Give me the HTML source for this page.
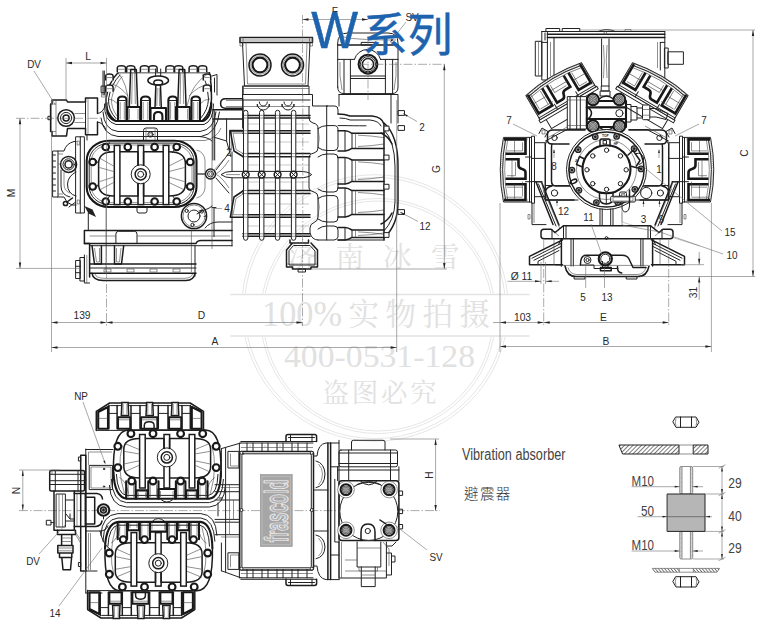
<!DOCTYPE html><html><head><meta charset="utf-8"><title>W</title><style>html,body{margin:0;padding:0;background:#fff}svg{display:block}.k{fill:none;stroke:#222;stroke-width:1;stroke-linejoin:round;stroke-linecap:round}.kf{fill:#fff;stroke:#222;stroke-width:1;stroke-linejoin:round}.t{fill:none;stroke:#444;stroke-width:.6;stroke-linejoin:round}.tf{fill:#fff;stroke:#444;stroke-width:.6}.th{fill:none;stroke:#666;stroke-width:.35}.b{fill:none;stroke:#181818;stroke-width:2.1;stroke-linejoin:round;stroke-linecap:round}.bf{fill:#fff;stroke:#181818;stroke-width:2.1;stroke-linejoin:round}.u{fill:none;stroke:#181818;stroke-width:2.6;stroke-linejoin:miter}.m{fill:none;stroke:#1c1c1c;stroke-width:1.5;stroke-linejoin:round;stroke-linecap:round}.d{fill:none;stroke:#6e6e6e;stroke-width:.6}.cl{fill:none;stroke:#666;stroke-width:.55;stroke-dasharray:9 2 1.5 2}.ar{fill:#222;stroke:none}.lg{fill:#a6a6a6;stroke:#8c8c8c;stroke-width:.6}.lgi{fill:none;stroke:#c9c9c9;stroke-width:.5}.mf{fill:#fff;stroke:#1c1c1c;stroke-width:1.5}.lgt{fill:#b4b4b4;stroke:#f6f6f6;stroke-width:.9;font-family:"Liberation Sans",sans-serif;font-weight:bold}.dk{fill:#222;stroke:none}.dk2{fill:#4a4a4a;stroke:none}.wl{fill:none;stroke:#ddd;stroke-width:.6}.tb{fill:#111;font-family:"Liberation Sans",sans-serif;font-weight:bold}.tx{fill:#2a2a2a;font-family:"Liberation Sans",sans-serif}.tv{fill:#444;font-family:"Liberation Sans",sans-serif}.wmc{fill:none;stroke:#e6e6e6;stroke-width:1}.wml{fill:none;stroke:#e2e2e2;stroke-width:1.6}.wmt{fill:#e1e1e1;stroke:none;font-family:"Liberation Serif","Noto Serif CJK SC",serif}</style></head><body>
<svg width="760" height="629" viewBox="0 0 760 629">
<rect width="760" height="629" fill="#fff"/>
<g class="wm">
<defs><clipPath id="wc"><rect x="0" y="0" width="760" height="293.5"/><rect x="0" y="337" width="760" height="300"/></clipPath></defs>
<g clip-path="url(#wc)">
<circle class="wmc" cx="375" cy="308" r="133.3"/>
<circle class="wmc" cx="375" cy="308" r="130.6"/>
<circle class="wmc" cx="378" cy="316" r="117.5"/>
<circle class="wmc" cx="378" cy="316" r="115"/>
</g>
<path class="wml" d="M230.3 294.5L529.5 294.5"/>
<path class="wml" d="M230.3 336L529.5 336"/>
<text class="wmt" x="288 335.5 383 431" y="266.5" font-size="28.5">济南冰雪</text>
<text class="wmt" x="262" y="325.5" font-size="36" textLength="80" lengthAdjust="spacingAndGlyphs">100%</text>
<text class="wmt" x="348.5 385.5 422.5 459.5" y="325" font-size="30.5">实物拍摄</text>
<text class="wmt" x="284" y="366.5" font-size="31" textLength="191" lengthAdjust="spacingAndGlyphs">400-0531-128</text>
<text class="wmt" x="322.5 351.7 380.9 410.1" y="402" font-size="26.5">盗图必究</text>
</g>
<path class="m" d="M52 100H66.5L67.5 102H85.5V98H97.5V113.5 M52 100V104H50.6V131.5H52V136H66.5L67.5 128.5H85.5V134.7H97.5V122"/>
<path class="t" d="M52 104L56 104"/>
<path class="t" d="M52 131.5L56 131.5"/>
<path class="t" d="M56 100L56 136"/>
<rect class="k" x="48.3" y="116.3" width="2.7" height="3.4"/>
<circle class="m" cx="66.1" cy="118" r="8.3"/>
<circle class="k" cx="66.1" cy="118" r="5.6"/>
<circle class="m" cx="66.1" cy="118" r="3"/>
<path class="t" d="M74.5 113.5L85.5 113.5"/>
<path class="t" d="M74.5 122.5L85.5 122.5"/>
<path class="k" d="M85.5 102L85.5 128.5"/>
<path class="k" d="M97.5 113.5Q103 113 105 106"/>
<path class="k" d="M97.5 122Q104 123 106 130"/>
<path class="t" d="M88 98L88 134.7"/>
<path class="k" d="M103 71L103 95"/>
<path class="k" d="M104.3 71L104.3 95"/>
<rect class="k" x="101.5" y="86" width="4" height="6.5"/>
<rect class="t" x="101.5" y="92.5" width="4" height="4.5"/>
<path class="m" d="M118 72.8Q108.5 82 106 99Q105 112 115.5 121"/>
<path class="k" d="M120 75Q111 84 108.5 99Q108 110 116 118.5"/>
<path class="t" d="M122.5 76Q114 86 111.5 99Q111 108 117 116"/>
<path class="m" d="M209.5 72.8Q212 86 211.5 99Q211 113 202 121"/>
<path class="k" d="M203 75Q208.5 86 208.5 99Q208 110 200.5 118.5"/>
<path class="k" d="M118 72.8L209.5 72.8"/>
<path class="mf" d="M117.3 72.3V67.9Q117.3 65.7 121.4 65.7Q125.5 65.7 125.5 67.9V72.3"/>
<path class="t" d="M118.3 69.3L124.5 69.3"/>
<path class="mf" d="M126.7 72.3V67.9Q126.7 65.7 130.8 65.7Q134.9 65.7 134.9 67.9V72.3"/>
<path class="t" d="M127.7 69.3L133.9 69.3"/>
<path class="mf" d="M140.4 72.3V67.9Q140.4 65.7 144.5 65.7Q148.6 65.7 148.6 67.9V72.3"/>
<path class="t" d="M141.4 69.3L147.6 69.3"/>
<path class="mf" d="M148.9 72.3V67.9Q148.9 65.7 153 65.7Q157.1 65.7 157.1 67.9V72.3"/>
<path class="t" d="M149.9 69.3L156.1 69.3"/>
<path class="mf" d="M165.9 72.3V67.9Q165.9 65.7 170 65.7Q174.1 65.7 174.1 67.9V72.3"/>
<path class="t" d="M166.9 69.3L173.1 69.3"/>
<path class="mf" d="M174.6 72.3V67.9Q174.6 65.7 178.7 65.7Q182.8 65.7 182.8 67.9V72.3"/>
<path class="t" d="M175.6 69.3L181.8 69.3"/>
<path class="mf" d="M189.1 72.3V67.9Q189.1 65.7 193.2 65.7Q197.3 65.7 197.3 67.9V72.3"/>
<path class="t" d="M190.1 69.3L196.3 69.3"/>
<path class="mf" d="M198.5 72.3V67.9Q198.5 65.7 202.6 65.7Q206.7 65.7 206.7 67.9V72.3"/>
<path class="t" d="M199.5 69.3L205.7 69.3"/>
<path class="mf" d="M105.7 80.5V76.1Q105.7 73.9 109.4 73.9Q113.1 73.9 113.1 76.1V80.5"/>
<path class="t" d="M106.7 77.5L112.1 77.5"/>
<path class="mf" d="M203.3 80.5V76.1Q203.3 73.9 207 73.9Q210.7 73.9 210.7 76.1V80.5"/>
<path class="t" d="M204.3 77.5L209.7 77.5"/>
<path class="mf" d="M105.7 91.7V87.3Q105.7 85.1 109.4 85.1Q113.1 85.1 113.1 87.3V91.7"/>
<path class="t" d="M106.7 88.7L112.1 88.7"/>
<path class="mf" d="M203.3 91.7V87.3Q203.3 85.1 207 85.1Q210.7 85.1 210.7 87.3V91.7"/>
<path class="t" d="M204.3 88.7L209.7 88.7"/>
<path class="k" d="M212 76L217 74.5V95 M214.5 78V92"/>
<path class="m" d="M129.3 107L130.7 69.4H136.3L137.7 107"/>
<path class="t" d="M132.3 73L131.7 104"/>
<path class="t" d="M134.7 73L135.3 104"/>
<path class="m" d="M177.7 107L179.1 69.4H184.7L186.1 107"/>
<path class="t" d="M180.7 73L180.1 104"/>
<path class="t" d="M183.1 73L183.7 104"/>
<path class="m" d="M155 108L155.8 86 M161.3 108L160.5 86"/>
<ellipse class="m" cx="158.2" cy="80.5" rx="10.3" ry="4.6"/>
<ellipse class="m" cx="158.2" cy="82.5" rx="4.4" ry="2.6"/>
<path class="k" d="M155.6 69V76 M160.7 69V76"/>
<path class="t" d="M157.2 88L156.8 106"/>
<path class="t" d="M159.2 88L159.6 106"/>
<path class="t" d="M118 73Q127 82 129 106 M209 73Q191 84 187 106"/>
<path class="t" d="M112 84Q120 86 128 96 M209 84Q198 86 189 96 M108 99Q113 99 118 104 M210 99Q204 99 200 104"/>
<path class="b" d="M118 120.7V100Q118 96.5 122.25 96.5Q126.5 96.5 126.5 100V120.7"/>
<path class="k" d="M119 100.5H125.5"/>
<path class="t" d="M120.2 102L120.2 119.5"/>
<path class="t" d="M124.3 102L124.3 119.5"/>
<path class="b" d="M141 120.7V100Q141 96.5 145.5 96.5Q150 96.5 150 100V120.7"/>
<path class="k" d="M142 100.5H149"/>
<path class="t" d="M143.2 102L143.2 119.5"/>
<path class="t" d="M147.8 102L147.8 119.5"/>
<path class="b" d="M168.4 120.7V100Q168.4 96.5 172.7 96.5Q177 96.5 177 100V120.7"/>
<path class="k" d="M169.4 100.5H176"/>
<path class="t" d="M170.6 102L170.6 119.5"/>
<path class="t" d="M174.8 102L174.8 119.5"/>
<path class="b" d="M191.5 120.7V100Q191.5 96.5 195.75 96.5Q200 96.5 200 100V120.7"/>
<path class="k" d="M192.5 100.5H199"/>
<path class="t" d="M193.7 102L193.7 119.5"/>
<path class="t" d="M197.8 102L197.8 119.5"/>
<path class="b" d="M127.4 120.7V107H140.2V120.7"/>
<path class="b" d="M176 120.7V107H189.8V120.7"/>
<path class="b" d="M150.5 120.7V108H166V120.7"/>
<path class="b" d="M154 120.7V116Q154 112 158.2 112Q162.4 112 162.4 116V120.7"/>
<path class="t" d="M129.5 109V119.5 M138 109V119.5 M178 109V119.5 M187.6 109V119.5"/>
<path class="b" d="M106.5 103Q106 118 116 121H203Q211 118 211.3 103"/>
<path class="k" d="M104.5 104Q104 121.5 116 124.5H204Q213.5 121 213.5 104"/>
<path class="k" d="M103 112Q104 130 118 131.5H200Q214 130 216 112"/>
<path class="k" d="M101 118Q103 135 118 136.5H201Q217 134 219.5 112"/>
<path class="t" d="M110 140.5H205Q217 138 221 128"/>
<path class="m" d="M225.3 98.7H242.7 M225.3 108.2H242.7 M225.3 98.7Q220.6 98.7 220.6 103.5Q220.6 108.2 225.3 108.2"/>
<path class="t" d="M226 100.5H242.7 M226 106.5H242.7"/>
<path class="m" d="M212.9 109.8H242.7 M212.9 119H243"/>
<path class="k" d="M212.9 109.8V160 M214.7 111V160"/>
<path class="k" d="M226.6 119L226.6 141"/>
<path class="k" d="M229.6 150V130.3H242.7"/>
<path class="t" d="M231.4 150V132H242.7"/>
<path class="k" d="M214.7 137.4L226.6 141L230.8 156.5"/>
<path class="k" d="M242.7 86V128"/>
<path class="k" d="M143.5 140V130.5Q143.5 128 146 128H155Q157.5 128 157.5 130.5V140"/>
<circle class="k" cx="150.5" cy="134.5" r="2.6"/>
<circle class="t" cx="150.5" cy="134.5" r="1.3"/>
<path class="t" d="M146 129L146 140"/>
<path class="t" d="M155 129L155 140"/>
<rect class="b" x="86.7" y="140.7" width="109.8" height="66.3" rx="22" ry="20"/>
<rect class="k" x="89.2" y="143.1" width="104.8" height="61.5" rx="20" ry="18"/>
<rect class="t" x="91.2" y="145" width="100.8" height="57.7" rx="18.5" ry="16.5"/>
<path class="m" d="M113.6 151.7H168.8Q185.4 151.7 185.4 163.6V184Q185.4 196 168.8 196H113.6Q98.6 196 98.6 184V163.6Q98.6 151.7 113.6 151.7Z"/>
<rect class="mf" x="114.3" y="145.4" width="5.6" height="59.2"/>
<rect class="mf" x="138" y="145.4" width="5.6" height="59.2"/>
<rect class="mf" x="163.2" y="145.4" width="5.6" height="59.2"/>
<circle class="kf" cx="140.7" cy="174.3" r="9.5"/>
<circle class="m" cx="140.7" cy="174.3" r="5.6"/>
<circle class="k" cx="140.7" cy="174.3" r="3"/>
<path class="m" d="M138 151.7V165.2 M143.6 151.7V165.2 M138 183.4V196 M143.6 183.4V196"/>
<path class="t" d="M113.6 171.5L99.4 167.5"/>
<path class="t" d="M113.6 177L99.4 181.7"/>
<path class="t" d="M113.6 166L99.4 158"/>
<path class="t" d="M113.6 182.5L99.4 190"/>
<path class="t" d="M169 171.5L184.6 167.5"/>
<path class="t" d="M169 177L184.6 181.7"/>
<path class="t" d="M169 166L184.6 158"/>
<path class="t" d="M169 182.5L184.6 190"/>
<path class="k" d="M98.6 163.6L95 159 M98.6 184L95 189.5 M185.4 163.6L188.5 159 M185.4 184L188.5 189.5"/>
<path class="k" d="M110 152.5L108 149.5 M110 195.5L108 198.5 M172.5 152.5L174.5 149.5 M172.5 195.5L174.5 198.5"/>
<circle class="bf" cx="105.7" cy="147" r="3.3"/>
<circle class="bf" cx="105.7" cy="201.5" r="3.3"/>
<circle class="bf" cx="127.8" cy="147" r="3.3"/>
<circle class="bf" cx="127.8" cy="201.5" r="3.3"/>
<circle class="bf" cx="154.6" cy="147" r="3.3"/>
<circle class="bf" cx="154.6" cy="201.5" r="3.3"/>
<circle class="bf" cx="176.7" cy="147" r="3.3"/>
<circle class="bf" cx="176.7" cy="201.5" r="3.3"/>
<circle class="bf" cx="92.7" cy="162" r="3.3"/>
<circle class="bf" cx="92.7" cy="186.5" r="3.3"/>
<circle class="bf" cx="190.2" cy="162" r="3.3"/>
<circle class="bf" cx="190.2" cy="186.5" r="3.3"/>
<path class="k" d="M137 207V211Q137 213 139 213H145Q147 213 147 211V207"/>
<path class="d" d="M106.5 100L106.5 255"/>
<circle class="m" cx="210.5" cy="174" r="5"/>
<circle class="k" cx="210.5" cy="174" r="3"/>
<circle class="t" cx="210.5" cy="174" r="1.4"/>
<path class="k" d="M196.5 174L205.5 174"/>
<circle class="m" cx="194" cy="216" r="12.6"/>
<circle class="t" cx="194" cy="216" r="11"/>
<circle class="k" cx="194" cy="216" r="6"/>
<circle class="k" cx="192.44" cy="224.86" r="1.6"/>
<circle class="k" cx="186.63" cy="210.84" r="1.6"/>
<circle class="k" cx="201.79" cy="211.5" r="1.6"/>
<path class="k" d="M197 214L202 211"/>
<path class="k" d="M76 136.8H84.4V213H76Z"/>
<path class="k" d="M80.3 136.8L80.3 213"/>
<rect class="t" x="77.2" y="141" width="2.2" height="4"/>
<rect class="t" x="77.2" y="200" width="2.2" height="4"/>
<path class="k" d="M53 151H58V197H53Z"/>
<path class="k" d="M53 155L55.5 155"/>
<path class="k" d="M53 161L55.5 161"/>
<path class="k" d="M53 167L55.5 167"/>
<path class="k" d="M53 173L55.5 173"/>
<path class="k" d="M53 179L55.5 179"/>
<path class="k" d="M53 185L55.5 185"/>
<path class="k" d="M53 191L55.5 191"/>
<path class="k" d="M58 151H64Q66 143.5 74 141.5H76 M58 197H64Q66 203 72 205H76"/>
<path class="t" d="M58 154H63 M58 194H63"/>
<circle class="m" cx="68.6" cy="164.4" r="8"/>
<circle class="k" cx="68.6" cy="164.4" r="5.6"/>
<circle class="m" cx="68.6" cy="164.4" r="3.6"/>
<path class="k" d="M61 170V186Q61 195 70 197 M76 172Q68 176 67.5 184Q67.5 194 76 196"/>
<path class="t" d="M64 172V184Q64 191 70 193"/>
<path class="t" d="M60.6 164H58 M76 158H72 M76 171H74"/>
<circle class="m" cx="65.5" cy="203.5" r="2.1"/>
<path class="m" d="M67 202L72.5 198"/>
<path class="k" d="M69 207L75 202.5"/>
<path class="dk" d="M84.4 206L92.5 209.5L96 217L88.5 213.5Z"/>
<path class="k" d="M88.3 213V230.5"/>
<path class="k" d="M87 135V140"/>
<path class="m" d="M84.4 230.5H232 M84.4 230.5V243.5H89.6V277"/>
<path class="t" d="M106 208V272"/>
<path class="t" d="M191.4 231L191.4 272"/>
<path class="k" d="M115.9 243.5V234Q115.9 231.3 118.5 231.3H134.5Q137 231.3 137 234V243.5"/>
<path class="t" d="M89.6 236H115.9 M137 236H230"/>
<path class="m" d="M84.4 243.5H196Q197 240.5 201 240.5H232"/>
<path class="k" d="M89.6 245.7L232 245.7"/>
<path class="m" d="M92 245.7L94.5 264H101.4V245.7 M123.7 245.7L121.5 264H114.5V245.7"/>
<path class="t" d="M94.5 248L96.5 262H99.5V248 M121 248L119.5 262H116.5V248"/>
<path class="m" d="M89.6 264H196 M89.6 273.3H196"/>
<path class="k" d="M89.6 268H196"/>
<path class="k" d="M195 245.7V276"/>
<path class="m" d="M92 273.3Q93 280 103 280.5H186Q194 280 195 273.3"/>
<path class="t" d="M95 274Q96 278 104 278.3H185Q191.5 278 192.5 274"/>
<rect class="t" x="104" y="269" width="7" height="3"/>
<rect class="t" x="127" y="269" width="7" height="3"/>
<rect class="t" x="150" y="269" width="7" height="3"/>
<rect class="t" x="173" y="269" width="7" height="3"/>
<rect class="k" x="76" y="260.5" width="4.3" height="18"/>
<rect class="k" x="80.3" y="257.5" width="4.1" height="23.5"/>
<path class="k" d="M76 266.3L80.3 266.3"/>
<path class="k" d="M76 272.7L80.3 272.7"/>
<path class="k" d="M84.4 255V283H89.6"/>
<path class="t" d="M86.8 255L86.8 283"/>
<path class="k" d="M232 152V246"/>
<path class="t" d="M229 131.5H246V239.5"/>
<path class="t" d="M196.5 174H205 M215.5 174Q222 171 229 160 M215.5 174Q222 177 229 188"/>
<path class="k" d="M216 170L229 153 M216 178L229 193"/>
<path class="k" d="M205 228Q210 222 218 222H232"/>
<path class="t" d="M212 125V249"/>
<path class="k" d="M199 136.5Q208 137 212 141 M199 211Q208 210 212 206"/>
<path class="k" d="M214 207.6V236.6 M212 207.6H216 "/>
<path class="t" d="M196.5 150Q204 152 205 160V188Q204 196 196.5 198"/>
<path class="m" d="M240 37.5H312.5V42.5H240Z"/>
<path class="t" d="M240 40L312.5 40"/>
<path class="k" d="M242.5 42.5L244.5 86H308L310 42.5"/>
<path class="t" d="M246 42.5L247.5 84H305.5L307 42.5"/>
<rect class="k" x="243.5" y="86" width="65.5" height="8.5"/>
<path class="t" d="M243.5 88.5L309 88.5"/>
<rect class="t" x="240" y="37.5" width="3" height="8.5"/>
<rect class="t" x="309.5" y="37.5" width="3" height="8.5"/>
<circle class="m" cx="260" cy="65" r="11"/>
<circle class="t" cx="260" cy="65" r="9.3"/>
<circle class="b" cx="260" cy="65" r="7.4"/>
<circle class="m" cx="292.5" cy="65" r="11"/>
<circle class="t" cx="292.5" cy="65" r="9.3"/>
<circle class="b" cx="292.5" cy="65" r="7.4"/>
<path class="k" d="M242.5 94.5V100 M309 94.5H312.5V106H327.5 M243 100H310 M243 100V128"/>
<path class="t" d="M243 106.5L310 106.5"/>
<path class="k" d="M257.3 106.5V104A6 6 0 0 0 269.3 104V106.5"/>
<path class="k" d="M259.3 102A4 4 0 0 0 267.3 102"/>
<path class="k" d="M282 106.5V104A6 6 0 0 0 294 104V106.5"/>
<path class="k" d="M284 102A4 4 0 0 0 292 102"/>
<path class="m" d="M243 115.4H310 M243 118H310"/>
<path class="m" d="M243 130.7H310 M243 133.3H310"/>
<path class="m" d="M243 153.6H310 M243 156.7H310"/>
<path class="m" d="M243 190.5H310 M243 193.6H310"/>
<path class="m" d="M243 214.7H310 M243 217.2H310"/>
<path class="m" d="M243 233.8H310 M243 236.3H310"/>
<path class="th" d="M248 124L309 124"/>
<path class="th" d="M248 142L309 142"/>
<path class="th" d="M248 165L309 165"/>
<path class="th" d="M248 182L309 182"/>
<path class="th" d="M248 204L309 204"/>
<path class="th" d="M248 226L309 226"/>
<path class="m" d="M243.8 130.7H230.3L234 151L243.8 157"/>
<path class="t" d="M243.8 133.3H233L236 149.5L243.8 154"/>
<path class="m" d="M243.8 217.2H230.3L234 197L243.8 190.5"/>
<path class="t" d="M243.8 214.7H233L236 198.5L243.8 193.6"/>
<path class="kf" d="M243.5 238V112.5Q243.5 110.3 245.7 110.3Q247.9 110.3 247.9 112.5V238Q247.9 240.3 245.7 240.3Q243.5 240.3 243.5 238Z"/>
<path class="t" d="M243.5 115.4L247.9 115.4"/>
<path class="t" d="M243.5 118L247.9 118"/>
<path class="t" d="M243.5 130.7L247.9 130.7"/>
<path class="t" d="M243.5 133.3L247.9 133.3"/>
<path class="t" d="M243.5 153.6L247.9 153.6"/>
<path class="t" d="M243.5 156.7L247.9 156.7"/>
<path class="t" d="M243.5 190.5L247.9 190.5"/>
<path class="t" d="M243.5 193.6L247.9 193.6"/>
<path class="t" d="M243.5 214.7L247.9 214.7"/>
<path class="t" d="M243.5 217.2L247.9 217.2"/>
<path class="t" d="M243.5 233.8L247.9 233.8"/>
<path class="t" d="M243.5 236.3L247.9 236.3"/>
<path class="kf" d="M259.5 238V112.5Q259.5 110.3 261.7 110.3Q263.9 110.3 263.9 112.5V238Q263.9 240.3 261.7 240.3Q259.5 240.3 259.5 238Z"/>
<path class="t" d="M259.5 115.4L263.9 115.4"/>
<path class="t" d="M259.5 118L263.9 118"/>
<path class="t" d="M259.5 130.7L263.9 130.7"/>
<path class="t" d="M259.5 133.3L263.9 133.3"/>
<path class="t" d="M259.5 153.6L263.9 153.6"/>
<path class="t" d="M259.5 156.7L263.9 156.7"/>
<path class="t" d="M259.5 190.5L263.9 190.5"/>
<path class="t" d="M259.5 193.6L263.9 193.6"/>
<path class="t" d="M259.5 214.7L263.9 214.7"/>
<path class="t" d="M259.5 217.2L263.9 217.2"/>
<path class="t" d="M259.5 233.8L263.9 233.8"/>
<path class="t" d="M259.5 236.3L263.9 236.3"/>
<path class="kf" d="M275.4 238V112.5Q275.4 110.3 277.6 110.3Q279.8 110.3 279.8 112.5V238Q279.8 240.3 277.6 240.3Q275.4 240.3 275.4 238Z"/>
<path class="t" d="M275.4 115.4L279.8 115.4"/>
<path class="t" d="M275.4 118L279.8 118"/>
<path class="t" d="M275.4 130.7L279.8 130.7"/>
<path class="t" d="M275.4 133.3L279.8 133.3"/>
<path class="t" d="M275.4 153.6L279.8 153.6"/>
<path class="t" d="M275.4 156.7L279.8 156.7"/>
<path class="t" d="M275.4 190.5L279.8 190.5"/>
<path class="t" d="M275.4 193.6L279.8 193.6"/>
<path class="t" d="M275.4 214.7L279.8 214.7"/>
<path class="t" d="M275.4 217.2L279.8 217.2"/>
<path class="t" d="M275.4 233.8L279.8 233.8"/>
<path class="t" d="M275.4 236.3L279.8 236.3"/>
<path class="kf" d="M291.4 238V112.5Q291.4 110.3 293.6 110.3Q295.8 110.3 295.8 112.5V238Q295.8 240.3 293.6 240.3Q291.4 240.3 291.4 238Z"/>
<path class="t" d="M291.4 115.4L295.8 115.4"/>
<path class="t" d="M291.4 118L295.8 118"/>
<path class="t" d="M291.4 130.7L295.8 130.7"/>
<path class="t" d="M291.4 133.3L295.8 133.3"/>
<path class="t" d="M291.4 153.6L295.8 153.6"/>
<path class="t" d="M291.4 156.7L295.8 156.7"/>
<path class="t" d="M291.4 190.5L295.8 190.5"/>
<path class="t" d="M291.4 193.6L295.8 193.6"/>
<path class="t" d="M291.4 214.7L295.8 214.7"/>
<path class="t" d="M291.4 217.2L295.8 217.2"/>
<path class="t" d="M291.4 233.8L295.8 233.8"/>
<path class="t" d="M291.4 236.3L295.8 236.3"/>
<path class="kf" d="M221 174.6Q225 171.4 232 171.4H300Q308 171.4 311.7 174.6Q308 177.8 300 177.8H232Q225 177.8 221 174.6Z"/>
<path class="t" d="M226 174.6H240"/>
<circle class="mf" cx="245.7" cy="174.6" r="3.4"/>
<path class="k" d="M243.4 172.3L248 176.9"/>
<path class="k" d="M243.4 176.9L248 172.3"/>
<circle class="mf" cx="261.7" cy="174.6" r="3.4"/>
<path class="k" d="M259.4 172.3L264 176.9"/>
<path class="k" d="M259.4 176.9L264 172.3"/>
<circle class="mf" cx="277.6" cy="174.6" r="3.4"/>
<path class="k" d="M275.3 172.3L279.9 176.9"/>
<path class="k" d="M275.3 176.9L279.9 172.3"/>
<circle class="mf" cx="293.6" cy="174.6" r="3.4"/>
<path class="k" d="M291.3 172.3L295.9 176.9"/>
<path class="k" d="M291.3 176.9L295.9 172.3"/>
<path class="cl" d="M302.8 94L302.8 240"/>
<path class="k" d="M309 106.5V118Q309 122 313 123Q318 124 318 128V148Q318 152 314 153Q309 154 309 158V188Q309 191 314 192Q318 193 318 197V217Q318 221 314 222.5Q310 224 310 228V233Q312 240 318 240"/>
<path class="k" d="M326.7 106L326.7 240"/>
<path class="t" d="M318 128Q320.5 138 318 148 M318 197Q320.5 207 318 217"/>
<path class="k" d="M326.7 106H335Q338 106 338 110V114"/>
<path class="k" d="M318 128.6Q322 125.6 326.7 125.6 M318 147.5Q322 150.5 326.7 150.5"/>
<path class="k" d="M326.7 125.6H334Q338 125.6 338 129.6V146.5Q338 150.5 334 150.5H326.7"/>
<path class="k" d="M318 157Q322 154 326.7 154 M318 189Q322 192 326.7 192"/>
<path class="k" d="M326.7 154H334Q338 154 338 158V188Q338 192 334 192H326.7"/>
<path class="k" d="M318 198.6Q322 195.6 326.7 195.6 M318 219Q322 222 326.7 222"/>
<path class="k" d="M326.7 195.6H334Q338 195.6 338 199.6V218Q338 222 334 222H326.7"/>
<path class="k" d="M318 229Q322 226 326.7 226H334Q338 226 338 230V237Q337 240 334 240H318"/>
<path class="m" d="M338 130.7H345Q348 130.7 352 133.3H384 M338 151H345Q348 151 352 148.4H384"/>
<path class="k" d="M345 130.7V151"/>
<path class="k" d="M352 133.3L352 148.4"/>
<path class="t" d="M355.5 133.3L355.5 148.4"/>
<path class="t" d="M358 135.2Q372 135.7 384 137.7 M358 146.5Q372 146 384 144"/>
<path class="m" d="M338 157.4H345Q348 157.4 352 160H384 M338 184H345Q348 184 352 181.4H384"/>
<path class="k" d="M345 157.4V184"/>
<path class="k" d="M352 160L352 181.4"/>
<path class="t" d="M355.5 160L355.5 181.4"/>
<path class="t" d="M358 161.9Q372 162.4 384 164.4 M358 179.5Q372 179 384 177"/>
<path class="m" d="M338 188H345Q348 188 352 190.6H384 M338 217H345Q348 217 352 214.4H384"/>
<path class="k" d="M345 188V217"/>
<path class="k" d="M352 190.6L352 214.4"/>
<path class="t" d="M355.5 190.6L355.5 214.4"/>
<path class="t" d="M358 192.5Q372 193 384 195 M358 212.5Q372 212 384 210"/>
<path class="m" d="M338 227.4H345Q348 227.4 352 230H384 M338 240H345Q348 240 352 237.4H384"/>
<path class="k" d="M345 227.4V240"/>
<path class="k" d="M352 230L352 237.4"/>
<path class="t" d="M355.5 230L355.5 237.4"/>
<path class="t" d="M358 231.9Q372 232.4 384 234.4 M358 235.5Q372 235 384 233"/>
<path class="m" d="M338 114Q345 114 350 116H372Q382 117 384 124"/>
<path class="k" d="M340 118Q346 118 350 120H370Q379 121 381 126"/>
<path class="k" d="M338 125.6H345Q352 125.8 366 125.8"/>
<path class="m" d="M384 124V240"/>
<path class="m" d="M384 123Q398 135 398 166V202Q398 225 384 238"/>
<path class="k" d="M384 130Q394.5 140 395 166V202Q394.5 220 384 231"/>
<path class="m" d="M381 133Q388 136 392 144 M381 224Q388 221 392 213"/>
<rect class="kf" x="384" y="126.1" width="5" height="4.8"/>
<rect class="kf" x="384" y="155.1" width="5" height="4.8"/>
<rect class="kf" x="384" y="184.3" width="5" height="4.8"/>
<rect class="kf" x="384" y="232.6" width="5" height="4.8"/>
<rect class="kf" x="398" y="110.6" width="6.5" height="4.8"/>
<rect class="kf" x="398" y="125.6" width="6.5" height="4.8"/>
<rect class="kf" x="398" y="209.6" width="6.5" height="4.8"/>
<path class="k" d="M338 240L384 240"/>
<path class="m" d="M290 240V243H308.5V240 M292.5 243L286.5 250V267H292.5V269H311V267H317.5V250L311 243"/>
<path class="k" d="M289 251V265H315V251L310 245.5H294Z"/>
<path class="t" d="M286.5 264L317.5 264"/>
<rect class="k" x="298.5" y="269" width="7" height="3"/>
<path class="k" d="M339 94.5H398V123 M339 94.5V106 M391 94.5V123"/>
<path class="k" d="M337.7 87V43Q337.7 33 348 33H388Q398 33 398 43V87Q398 93.6 392 93.6H344Q337.7 93.6 337.7 87Z"/>
<path class="m" d="M337.7 45H398"/>
<path class="t" d="M340 36Q350 40 396 40"/>
<path class="k" d="M337.7 59.4H354.4 M380.6 59.4H398 M344 59.4V93.6 M350.4 59.4V93.6 M385.4 59.4V93.6 M392.6 59.4V93.6"/>
<path class="k" d="M354.4 59.4A13.6 13.6 0 0 1 380.6 59.4"/>
<path class="k" d="M350.4 76H385.4 M350.4 78.5H385.4"/>
<rect class="k" x="361.6" y="42.4" width="14.3" height="2.6"/>
<circle class="b" cx="368" cy="64.2" r="9.4"/>
<circle class="k" cx="368" cy="64.2" r="7.6"/>
<circle class="m" cx="368" cy="64.2" r="5.6"/>
<path class="t" d="M340 62Q339 75 342 90 M396 62Q397 75 394 90"/>
<path class="cl" d="M368 36L368 100"/>
<rect class="k" x="546.3" y="28.5" width="13.4" height="3"/>
<rect class="k" x="562.6" y="28.5" width="17.2" height="3"/>
<path class="k" d="M541.8 31.5H664.8 M541.8 31.5V42.4H547.4 M664.8 31.5V42.4H660.3"/>
<path class="m" d="M547.4 34.3H664.8 M547.4 37.4H664.8"/>
<path class="k" d="M545 33V40 M547.4 31.5V42.4"/>
<path class="k" d="M598 31.5Q606.7 27.5 615.5 31.5"/>
<path class="t" d="M625 31.5V29.5H631V31.5"/>
<path class="k" d="M547.4 42.4V80 M554 38V78 M660.3 42.4V70 M664.8 42.4V83"/>
<path class="t" d="M550.5 42V76 M657.5 42V68"/>
<rect class="k" x="535.7" y="41.3" width="6.1" height="34.7"/>
<path class="t" d="M538.5 41.3L538.5 76"/>
<path class="k" d="M541.8 42.4V80H547.4"/>
<rect class="k" x="664.8" y="48" width="3.4" height="20"/>
<rect class="k" x="668.2" y="51.8" width="15.2" height="12.5"/>
<path class="k" d="M601.6 39V86 M609 39V86"/>
<path class="t" d="M603.5 45Q605 60 603.5 78 M607 45Q605.6 60 607 78"/>
<circle class="t" cx="605.3" cy="33" r="1.4"/>
<path class="k" d="M601.6 86H609V91H601.6Z M600.5 91H610V96H600.5Z"/>
<g transform="translate(607 169.7) rotate(180) scale(1 -1) translate(0 0)">
<path class="k" d="M62 -27H72.5 M62 27H72.5 M62 -27V27"/>
<path class="kf" d="M72.5 -33.5V33.5H75.5V-33.5Z"/>
<path class="kf" d="M75.5 -32.3H103.5Q110 0 103.5 32.3H75.5Z"/>
<path class="k" d="M77.5 -32.3V32.3"/>
<path class="k" d="M101.3 -31Q107.5 0 101.3 31"/>
<path class="t" d="M99.3 -30Q105.3 0 99.3 30"/>
<path class="th" d="M101.45 -28.7L104.35 -28.7"/>
<path class="th" d="M101.8 -26.65L104.7 -26.65"/>
<path class="th" d="M102.12 -24.6L105.02 -24.6"/>
<path class="th" d="M102.42 -22.55L105.32 -22.55"/>
<path class="th" d="M102.7 -20.5L105.6 -20.5"/>
<path class="th" d="M102.94 -18.45L105.84 -18.45"/>
<path class="th" d="M103.17 -16.4L106.07 -16.4"/>
<path class="th" d="M103.36 -14.35L106.26 -14.35"/>
<path class="th" d="M103.53 -12.3L106.43 -12.3"/>
<path class="th" d="M103.67 -10.25L106.57 -10.25"/>
<path class="th" d="M103.79 -8.2L106.69 -8.2"/>
<path class="th" d="M103.88 -6.15L106.78 -6.15"/>
<path class="th" d="M103.95 -4.1L106.85 -4.1"/>
<path class="th" d="M103.99 -2.05L106.89 -2.05"/>
<path class="th" d="M104 0L106.9 0"/>
<path class="th" d="M103.99 2.05L106.89 2.05"/>
<path class="th" d="M103.95 4.1L106.85 4.1"/>
<path class="th" d="M103.88 6.15L106.78 6.15"/>
<path class="th" d="M103.79 8.2L106.69 8.2"/>
<path class="th" d="M103.67 10.25L106.57 10.25"/>
<path class="th" d="M103.53 12.3L106.43 12.3"/>
<path class="th" d="M103.36 14.35L106.26 14.35"/>
<path class="th" d="M103.17 16.4L106.07 16.4"/>
<path class="th" d="M102.94 18.45L105.84 18.45"/>
<path class="th" d="M102.7 20.5L105.6 20.5"/>
<path class="th" d="M102.42 22.55L105.32 22.55"/>
<path class="th" d="M102.12 24.6L105.02 24.6"/>
<path class="th" d="M101.8 26.65L104.7 26.65"/>
<path class="th" d="M101.45 28.7L104.35 28.7"/>
<path class="th" d="M79.5 -32.3L79.5 -29.2"/>
<path class="th" d="M79.5 32.3L79.5 29.2"/>
<path class="th" d="M81.5 -32.3L81.5 -29.2"/>
<path class="th" d="M81.5 32.3L81.5 29.2"/>
<path class="th" d="M83.5 -32.3L83.5 -29.2"/>
<path class="th" d="M83.5 32.3L83.5 29.2"/>
<path class="th" d="M85.5 -32.3L85.5 -29.2"/>
<path class="th" d="M85.5 32.3L85.5 29.2"/>
<path class="th" d="M87.5 -32.3L87.5 -29.2"/>
<path class="th" d="M87.5 32.3L87.5 29.2"/>
<path class="th" d="M89.5 -32.3L89.5 -29.2"/>
<path class="th" d="M89.5 32.3L89.5 29.2"/>
<path class="th" d="M91.5 -32.3L91.5 -29.2"/>
<path class="th" d="M91.5 32.3L91.5 29.2"/>
<path class="th" d="M93.5 -32.3L93.5 -29.2"/>
<path class="th" d="M93.5 32.3L93.5 29.2"/>
<path class="th" d="M95.5 -32.3L95.5 -29.2"/>
<path class="th" d="M95.5 32.3L95.5 29.2"/>
<path class="th" d="M97.5 -32.3L97.5 -29.2"/>
<path class="th" d="M97.5 32.3L97.5 29.2"/>
<path class="th" d="M99.5 -32.3L99.5 -29.2"/>
<path class="th" d="M99.5 32.3L99.5 29.2"/>
<path class="th" d="M101.5 -32.3L101.5 -29.2"/>
<path class="th" d="M101.5 32.3L101.5 29.2"/>
<path class="u" d="M103 -30.3H81.5V-16H101.5"/>
<path class="u" d="M101.5 -10.5H88.5V-4.5Q88.5 -1.5 85 -0.8Q81.5 0 81.5 2.5V9H101.5"/>
<path class="u" d="M101.5 14.5H81.5V30.3H103"/>
<path class="t" d="M84.5 -27.5V-18.8H100 M84.5 12V26.5 M84.5 17.5H100 M91.5 -7.7V6H100 M84.5 27.5H101"/>
<path class="t" d="M92.5 -30L92.5 -16"/>
<path class="t" d="M92.5 14.5L92.5 30"/>
<path class="t" d="M95 -10.5L95 9"/>
<path class="k" d="M75.5 -12.7H81.5 M75.5 12H81.5"/>
</g>
<g transform="translate(607 169.7) rotate(0) translate(0 0)">
<path class="k" d="M62 -27H72.5 M62 27H72.5 M62 -27V27"/>
<path class="kf" d="M72.5 -33.5V33.5H75.5V-33.5Z"/>
<path class="kf" d="M75.5 -32.3H103.5Q110 0 103.5 32.3H75.5Z"/>
<path class="k" d="M77.5 -32.3V32.3"/>
<path class="k" d="M101.3 -31Q107.5 0 101.3 31"/>
<path class="t" d="M99.3 -30Q105.3 0 99.3 30"/>
<path class="th" d="M101.45 -28.7L104.35 -28.7"/>
<path class="th" d="M101.8 -26.65L104.7 -26.65"/>
<path class="th" d="M102.12 -24.6L105.02 -24.6"/>
<path class="th" d="M102.42 -22.55L105.32 -22.55"/>
<path class="th" d="M102.7 -20.5L105.6 -20.5"/>
<path class="th" d="M102.94 -18.45L105.84 -18.45"/>
<path class="th" d="M103.17 -16.4L106.07 -16.4"/>
<path class="th" d="M103.36 -14.35L106.26 -14.35"/>
<path class="th" d="M103.53 -12.3L106.43 -12.3"/>
<path class="th" d="M103.67 -10.25L106.57 -10.25"/>
<path class="th" d="M103.79 -8.2L106.69 -8.2"/>
<path class="th" d="M103.88 -6.15L106.78 -6.15"/>
<path class="th" d="M103.95 -4.1L106.85 -4.1"/>
<path class="th" d="M103.99 -2.05L106.89 -2.05"/>
<path class="th" d="M104 0L106.9 0"/>
<path class="th" d="M103.99 2.05L106.89 2.05"/>
<path class="th" d="M103.95 4.1L106.85 4.1"/>
<path class="th" d="M103.88 6.15L106.78 6.15"/>
<path class="th" d="M103.79 8.2L106.69 8.2"/>
<path class="th" d="M103.67 10.25L106.57 10.25"/>
<path class="th" d="M103.53 12.3L106.43 12.3"/>
<path class="th" d="M103.36 14.35L106.26 14.35"/>
<path class="th" d="M103.17 16.4L106.07 16.4"/>
<path class="th" d="M102.94 18.45L105.84 18.45"/>
<path class="th" d="M102.7 20.5L105.6 20.5"/>
<path class="th" d="M102.42 22.55L105.32 22.55"/>
<path class="th" d="M102.12 24.6L105.02 24.6"/>
<path class="th" d="M101.8 26.65L104.7 26.65"/>
<path class="th" d="M101.45 28.7L104.35 28.7"/>
<path class="th" d="M79.5 -32.3L79.5 -29.2"/>
<path class="th" d="M79.5 32.3L79.5 29.2"/>
<path class="th" d="M81.5 -32.3L81.5 -29.2"/>
<path class="th" d="M81.5 32.3L81.5 29.2"/>
<path class="th" d="M83.5 -32.3L83.5 -29.2"/>
<path class="th" d="M83.5 32.3L83.5 29.2"/>
<path class="th" d="M85.5 -32.3L85.5 -29.2"/>
<path class="th" d="M85.5 32.3L85.5 29.2"/>
<path class="th" d="M87.5 -32.3L87.5 -29.2"/>
<path class="th" d="M87.5 32.3L87.5 29.2"/>
<path class="th" d="M89.5 -32.3L89.5 -29.2"/>
<path class="th" d="M89.5 32.3L89.5 29.2"/>
<path class="th" d="M91.5 -32.3L91.5 -29.2"/>
<path class="th" d="M91.5 32.3L91.5 29.2"/>
<path class="th" d="M93.5 -32.3L93.5 -29.2"/>
<path class="th" d="M93.5 32.3L93.5 29.2"/>
<path class="th" d="M95.5 -32.3L95.5 -29.2"/>
<path class="th" d="M95.5 32.3L95.5 29.2"/>
<path class="th" d="M97.5 -32.3L97.5 -29.2"/>
<path class="th" d="M97.5 32.3L97.5 29.2"/>
<path class="th" d="M99.5 -32.3L99.5 -29.2"/>
<path class="th" d="M99.5 32.3L99.5 29.2"/>
<path class="th" d="M101.5 -32.3L101.5 -29.2"/>
<path class="th" d="M101.5 32.3L101.5 29.2"/>
<path class="u" d="M103 -30.3H81.5V-16H101.5"/>
<path class="u" d="M101.5 -10.5H88.5V-4.5Q88.5 -1.5 85 -0.8Q81.5 0 81.5 2.5V9H101.5"/>
<path class="u" d="M101.5 14.5H81.5V30.3H103"/>
<path class="t" d="M84.5 -27.5V-18.8H100 M84.5 12V26.5 M84.5 17.5H100 M91.5 -7.7V6H100 M84.5 27.5H101"/>
<path class="t" d="M92.5 -30L92.5 -16"/>
<path class="t" d="M92.5 14.5L92.5 30"/>
<path class="t" d="M95 -10.5L95 9"/>
<path class="k" d="M75.5 -12.7H81.5 M75.5 12H81.5"/>
</g>
<g transform="translate(607 169.7) rotate(-120.5) scale(1 -1) translate(1.6 0)">
<path class="k" d="M62 -27H72.5 M62 27H72.5 M62 -27V27"/>
<path class="kf" d="M72.5 -33.5V33.5H75.5V-33.5Z"/>
<path class="kf" d="M75.5 -32.3H103.5Q110 0 103.5 32.3H75.5Z"/>
<path class="k" d="M77.5 -32.3V32.3"/>
<path class="k" d="M101.3 -31Q107.5 0 101.3 31"/>
<path class="t" d="M99.3 -30Q105.3 0 99.3 30"/>
<path class="th" d="M101.45 -28.7L104.35 -28.7"/>
<path class="th" d="M101.8 -26.65L104.7 -26.65"/>
<path class="th" d="M102.12 -24.6L105.02 -24.6"/>
<path class="th" d="M102.42 -22.55L105.32 -22.55"/>
<path class="th" d="M102.7 -20.5L105.6 -20.5"/>
<path class="th" d="M102.94 -18.45L105.84 -18.45"/>
<path class="th" d="M103.17 -16.4L106.07 -16.4"/>
<path class="th" d="M103.36 -14.35L106.26 -14.35"/>
<path class="th" d="M103.53 -12.3L106.43 -12.3"/>
<path class="th" d="M103.67 -10.25L106.57 -10.25"/>
<path class="th" d="M103.79 -8.2L106.69 -8.2"/>
<path class="th" d="M103.88 -6.15L106.78 -6.15"/>
<path class="th" d="M103.95 -4.1L106.85 -4.1"/>
<path class="th" d="M103.99 -2.05L106.89 -2.05"/>
<path class="th" d="M104 0L106.9 0"/>
<path class="th" d="M103.99 2.05L106.89 2.05"/>
<path class="th" d="M103.95 4.1L106.85 4.1"/>
<path class="th" d="M103.88 6.15L106.78 6.15"/>
<path class="th" d="M103.79 8.2L106.69 8.2"/>
<path class="th" d="M103.67 10.25L106.57 10.25"/>
<path class="th" d="M103.53 12.3L106.43 12.3"/>
<path class="th" d="M103.36 14.35L106.26 14.35"/>
<path class="th" d="M103.17 16.4L106.07 16.4"/>
<path class="th" d="M102.94 18.45L105.84 18.45"/>
<path class="th" d="M102.7 20.5L105.6 20.5"/>
<path class="th" d="M102.42 22.55L105.32 22.55"/>
<path class="th" d="M102.12 24.6L105.02 24.6"/>
<path class="th" d="M101.8 26.65L104.7 26.65"/>
<path class="th" d="M101.45 28.7L104.35 28.7"/>
<path class="th" d="M79.5 -32.3L79.5 -29.2"/>
<path class="th" d="M79.5 32.3L79.5 29.2"/>
<path class="th" d="M81.5 -32.3L81.5 -29.2"/>
<path class="th" d="M81.5 32.3L81.5 29.2"/>
<path class="th" d="M83.5 -32.3L83.5 -29.2"/>
<path class="th" d="M83.5 32.3L83.5 29.2"/>
<path class="th" d="M85.5 -32.3L85.5 -29.2"/>
<path class="th" d="M85.5 32.3L85.5 29.2"/>
<path class="th" d="M87.5 -32.3L87.5 -29.2"/>
<path class="th" d="M87.5 32.3L87.5 29.2"/>
<path class="th" d="M89.5 -32.3L89.5 -29.2"/>
<path class="th" d="M89.5 32.3L89.5 29.2"/>
<path class="th" d="M91.5 -32.3L91.5 -29.2"/>
<path class="th" d="M91.5 32.3L91.5 29.2"/>
<path class="th" d="M93.5 -32.3L93.5 -29.2"/>
<path class="th" d="M93.5 32.3L93.5 29.2"/>
<path class="th" d="M95.5 -32.3L95.5 -29.2"/>
<path class="th" d="M95.5 32.3L95.5 29.2"/>
<path class="th" d="M97.5 -32.3L97.5 -29.2"/>
<path class="th" d="M97.5 32.3L97.5 29.2"/>
<path class="th" d="M99.5 -32.3L99.5 -29.2"/>
<path class="th" d="M99.5 32.3L99.5 29.2"/>
<path class="th" d="M101.5 -32.3L101.5 -29.2"/>
<path class="th" d="M101.5 32.3L101.5 29.2"/>
<path class="u" d="M103 -30.3H81.5V-16H101.5"/>
<path class="u" d="M101.5 -10.5H88.5V-4.5Q88.5 -1.5 85 -0.8Q81.5 0 81.5 2.5V9H101.5"/>
<path class="u" d="M101.5 14.5H81.5V30.3H103"/>
<path class="t" d="M84.5 -27.5V-18.8H100 M84.5 12V26.5 M84.5 17.5H100 M91.5 -7.7V6H100 M84.5 27.5H101"/>
<path class="t" d="M92.5 -30L92.5 -16"/>
<path class="t" d="M92.5 14.5L92.5 30"/>
<path class="t" d="M95 -10.5L95 9"/>
<path class="k" d="M75.5 -12.7H81.5 M75.5 12H81.5"/>
</g>
<g transform="translate(607 169.7) rotate(-59.5) translate(1.6 0)">
<path class="k" d="M62 -27H72.5 M62 27H72.5 M62 -27V27"/>
<path class="kf" d="M72.5 -33.5V33.5H75.5V-33.5Z"/>
<path class="kf" d="M75.5 -32.3H103.5Q110 0 103.5 32.3H75.5Z"/>
<path class="k" d="M77.5 -32.3V32.3"/>
<path class="k" d="M101.3 -31Q107.5 0 101.3 31"/>
<path class="t" d="M99.3 -30Q105.3 0 99.3 30"/>
<path class="th" d="M101.45 -28.7L104.35 -28.7"/>
<path class="th" d="M101.8 -26.65L104.7 -26.65"/>
<path class="th" d="M102.12 -24.6L105.02 -24.6"/>
<path class="th" d="M102.42 -22.55L105.32 -22.55"/>
<path class="th" d="M102.7 -20.5L105.6 -20.5"/>
<path class="th" d="M102.94 -18.45L105.84 -18.45"/>
<path class="th" d="M103.17 -16.4L106.07 -16.4"/>
<path class="th" d="M103.36 -14.35L106.26 -14.35"/>
<path class="th" d="M103.53 -12.3L106.43 -12.3"/>
<path class="th" d="M103.67 -10.25L106.57 -10.25"/>
<path class="th" d="M103.79 -8.2L106.69 -8.2"/>
<path class="th" d="M103.88 -6.15L106.78 -6.15"/>
<path class="th" d="M103.95 -4.1L106.85 -4.1"/>
<path class="th" d="M103.99 -2.05L106.89 -2.05"/>
<path class="th" d="M104 0L106.9 0"/>
<path class="th" d="M103.99 2.05L106.89 2.05"/>
<path class="th" d="M103.95 4.1L106.85 4.1"/>
<path class="th" d="M103.88 6.15L106.78 6.15"/>
<path class="th" d="M103.79 8.2L106.69 8.2"/>
<path class="th" d="M103.67 10.25L106.57 10.25"/>
<path class="th" d="M103.53 12.3L106.43 12.3"/>
<path class="th" d="M103.36 14.35L106.26 14.35"/>
<path class="th" d="M103.17 16.4L106.07 16.4"/>
<path class="th" d="M102.94 18.45L105.84 18.45"/>
<path class="th" d="M102.7 20.5L105.6 20.5"/>
<path class="th" d="M102.42 22.55L105.32 22.55"/>
<path class="th" d="M102.12 24.6L105.02 24.6"/>
<path class="th" d="M101.8 26.65L104.7 26.65"/>
<path class="th" d="M101.45 28.7L104.35 28.7"/>
<path class="th" d="M79.5 -32.3L79.5 -29.2"/>
<path class="th" d="M79.5 32.3L79.5 29.2"/>
<path class="th" d="M81.5 -32.3L81.5 -29.2"/>
<path class="th" d="M81.5 32.3L81.5 29.2"/>
<path class="th" d="M83.5 -32.3L83.5 -29.2"/>
<path class="th" d="M83.5 32.3L83.5 29.2"/>
<path class="th" d="M85.5 -32.3L85.5 -29.2"/>
<path class="th" d="M85.5 32.3L85.5 29.2"/>
<path class="th" d="M87.5 -32.3L87.5 -29.2"/>
<path class="th" d="M87.5 32.3L87.5 29.2"/>
<path class="th" d="M89.5 -32.3L89.5 -29.2"/>
<path class="th" d="M89.5 32.3L89.5 29.2"/>
<path class="th" d="M91.5 -32.3L91.5 -29.2"/>
<path class="th" d="M91.5 32.3L91.5 29.2"/>
<path class="th" d="M93.5 -32.3L93.5 -29.2"/>
<path class="th" d="M93.5 32.3L93.5 29.2"/>
<path class="th" d="M95.5 -32.3L95.5 -29.2"/>
<path class="th" d="M95.5 32.3L95.5 29.2"/>
<path class="th" d="M97.5 -32.3L97.5 -29.2"/>
<path class="th" d="M97.5 32.3L97.5 29.2"/>
<path class="th" d="M99.5 -32.3L99.5 -29.2"/>
<path class="th" d="M99.5 32.3L99.5 29.2"/>
<path class="th" d="M101.5 -32.3L101.5 -29.2"/>
<path class="th" d="M101.5 32.3L101.5 29.2"/>
<path class="u" d="M103 -30.3H81.5V-16H101.5"/>
<path class="u" d="M101.5 -10.5H88.5V-4.5Q88.5 -1.5 85 -0.8Q81.5 0 81.5 2.5V9H101.5"/>
<path class="u" d="M101.5 14.5H81.5V30.3H103"/>
<path class="t" d="M84.5 -27.5V-18.8H100 M84.5 12V26.5 M84.5 17.5H100 M91.5 -7.7V6H100 M84.5 27.5H101"/>
<path class="t" d="M92.5 -30L92.5 -16"/>
<path class="t" d="M92.5 14.5L92.5 30"/>
<path class="t" d="M95 -10.5L95 9"/>
<path class="k" d="M75.5 -12.7H81.5 M75.5 12H81.5"/>
</g>
<path class="k" d="M532 203L532 224.6L546 224.6"/>
<path class="t" d="M534 203L534 223"/>
<rect class="t" x="528" y="214.5" width="2" height="4.5"/>
<path class="m" d="M536 182L553 224.5"/>
<path class="m" d="M541.5 182L559 225"/>
<path class="k" d="M538.5 184L556 226"/>
<path class="t" d="M543.5 190L560 229"/>
<path class="k" d="M536 182L541.5 182"/>
<path class="t" d="M541.5 182L544 193"/>
<path class="k" d="M545 137L548 131.5L542 128L539 133.5"/>
<rect class="t" x="542" y="130" width="3" height="4"/>
<path class="m" d="M585 130H553Q548 130 547.5 134V140Q547.5 144 552 144H569"/>
<path class="m" d="M552 144Q551.5 144 551.5 149V181Q551.5 186 556 186H571"/>
<path class="m" d="M552 186Q546 187 545.5 192V200H574"/>
<path class="k" d="M545.5 144L545.5 200"/>
<path class="k" d="M547.5 140L545.5 144"/>
<circle class="k" cx="554.5" cy="137.8" r="2.7"/>
<path class="k" d="M682 203L682 224.6L668 224.6"/>
<path class="t" d="M680 203L680 223"/>
<rect class="t" x="684" y="214.5" width="2" height="4.5"/>
<path class="m" d="M678 182L661 224.5"/>
<path class="m" d="M672.5 182L655 225"/>
<path class="k" d="M675.5 184L658 226"/>
<path class="t" d="M670.5 190L654 229"/>
<path class="k" d="M678 182L672.5 182"/>
<path class="t" d="M672.5 182L670 193"/>
<path class="k" d="M669 137L666 131.5L672 128L675 133.5"/>
<rect class="t" x="669" y="130" width="3" height="4"/>
<path class="m" d="M629 130H661Q666 130 666.5 134V140Q666.5 144 662 144H645"/>
<path class="m" d="M662 144Q662.5 144 662.5 149V181Q662.5 186 658 186H643"/>
<path class="m" d="M662 186Q668 187 668.5 192V200H640"/>
<path class="k" d="M668.5 144L668.5 200"/>
<path class="k" d="M666.5 140L668.5 144"/>
<circle class="k" cx="659.5" cy="137.8" r="2.7"/>
<circle class="k" cx="554.5" cy="193" r="3.2"/>
<circle class="k" cx="646.2" cy="193" r="5.6"/>
<circle class="k" cx="660.4" cy="193" r="3.1"/>
<path class="k" d="M545 158.4L532 158.4"/>
<path class="k" d="M542 181.6L532 181.6"/>
<path class="k" d="M669 158.4L682 158.4"/>
<path class="k" d="M672 181.6L682 181.6"/>
<path class="k" d="M567 129.5L545.5 141 M585 129.5H567"/>
<path class="k" d="M647 129.5L668.5 141 M629 129.5H647"/>
<path class="t" d="M569 126L548 137.5 M645 126L666 137.5"/>
<rect class="kf" x="567.3" y="96.6" width="19.2" height="32.4"/>
<path class="k" d="M570 96.6V129 M576.7 96.6V129 M580.3 96.6V129"/>
<path class="t" d="M567.3 100H586 M567.3 125.5H586"/>
<rect class="bf" x="586.8" y="101" width="39.2" height="26"/>
<path class="b" d="M586.8 107.4H626 M586.8 119H626"/>
<path class="m" d="M588 107.4Q595 113.2 588 119"/>
<path class="m" d="M598.5 99.5Q606.3 92.5 614 99.5"/>
<path class="m" d="M598.5 127Q606.3 133 614 127"/>
<circle class="k" cx="619.4" cy="113.2" r="3.6"/>
<circle class="bf" cx="593" cy="99.5" r="5.8"/>
<circle class="dk2" cx="593" cy="99.5" r="4.3"/>
<circle class="wl" cx="593" cy="99.5" r="3.2"/>
<circle class="wl" cx="593" cy="99.5" r="1.9"/>
<path class="wl" d="M591.7 98.2L594.3 100.8"/>
<path class="wl" d="M591.7 100.8L594.3 98.2"/>
<circle class="bf" cx="619.4" cy="99.5" r="5.8"/>
<circle class="dk2" cx="619.4" cy="99.5" r="4.3"/>
<circle class="wl" cx="619.4" cy="99.5" r="3.2"/>
<circle class="wl" cx="619.4" cy="99.5" r="1.9"/>
<path class="wl" d="M618.1 98.2L620.7 100.8"/>
<path class="wl" d="M618.1 100.8L620.7 98.2"/>
<circle class="bf" cx="593" cy="126.2" r="5.8"/>
<circle class="dk2" cx="593" cy="126.2" r="4.3"/>
<circle class="wl" cx="593" cy="126.2" r="3.2"/>
<circle class="wl" cx="593" cy="126.2" r="1.9"/>
<path class="wl" d="M591.7 124.9L594.3 127.5"/>
<path class="wl" d="M591.7 127.5L594.3 124.9"/>
<circle class="bf" cx="619.4" cy="126.2" r="5.8"/>
<circle class="dk2" cx="619.4" cy="126.2" r="4.3"/>
<circle class="wl" cx="619.4" cy="126.2" r="3.2"/>
<circle class="wl" cx="619.4" cy="126.2" r="1.9"/>
<path class="wl" d="M618.1 124.9L620.7 127.5"/>
<path class="wl" d="M618.1 127.5L620.7 124.9"/>
<path class="k" d="M626 104.5H631V122H626 M631 106.5H637V120H631 M637 108H642.5V118H637"/>
<rect class="kf" x="642.5" y="105" width="7.3" height="14.7" rx="1"/>
<path class="t" d="M642.5 109.5L649.8 109.5"/>
<path class="t" d="M642.5 115.2L649.8 115.2"/>
<path class="k" d="M649.8 108.5H656L668 113.5L666 119.5L656 117H649.8"/>
<circle class="kf" cx="606.5" cy="169.5" r="40"/>
<circle class="m" cx="606.5" cy="169.5" r="37.6"/>
<circle class="t" cx="606.5" cy="169.5" r="30"/>
<circle class="bf" cx="606.5" cy="169.3" r="24"/>
<circle class="k" cx="606.6" cy="189.4" r="2.2"/>
<circle class="k" cx="592.74" cy="183.66" r="2.2"/>
<circle class="k" cx="587" cy="169.8" r="2.2"/>
<circle class="k" cx="592.74" cy="155.94" r="2.2"/>
<circle class="k" cx="606.6" cy="150.2" r="2.2"/>
<circle class="k" cx="620.46" cy="155.94" r="2.2"/>
<circle class="k" cx="626.2" cy="169.8" r="2.2"/>
<circle class="k" cx="620.46" cy="183.66" r="2.2"/>
<circle class="dk" cx="641.09" cy="168.9" r="3.4"/>
<circle class="wl" cx="641.09" cy="168.9" r="1.8"/>
<circle class="dk" cx="634.84" cy="189.35" r="3.4"/>
<circle class="wl" cx="634.84" cy="189.35" r="1.8"/>
<circle class="dk" cx="617.76" cy="202.21" r="3.4"/>
<circle class="wl" cx="617.76" cy="202.21" r="1.8"/>
<circle class="dk" cx="596.38" cy="202.59" r="3.4"/>
<circle class="wl" cx="596.38" cy="202.59" r="1.8"/>
<circle class="dk" cx="578.87" cy="190.32" r="3.4"/>
<circle class="wl" cx="578.87" cy="190.32" r="1.8"/>
<circle class="dk" cx="571.91" cy="170.1" r="3.4"/>
<circle class="wl" cx="571.91" cy="170.1" r="1.8"/>
<circle class="dk" cx="578.16" cy="149.65" r="3.4"/>
<circle class="wl" cx="578.16" cy="149.65" r="1.8"/>
<circle class="dk" cx="595.24" cy="136.79" r="3.4"/>
<circle class="wl" cx="595.24" cy="136.79" r="1.8"/>
<circle class="dk" cx="616.62" cy="136.41" r="3.4"/>
<circle class="wl" cx="616.62" cy="136.41" r="1.8"/>
<circle class="dk" cx="634.13" cy="148.68" r="3.4"/>
<circle class="wl" cx="634.13" cy="148.68" r="1.8"/>
<path class="m" d="M600 146V140.5Q600 139 601.5 139H608.5Q610 139 610 140.5V146"/>
<rect class="k" x="603.5" y="140.5" width="3" height="3.5"/>
<text class="tb" transform="translate(605.3 137.3)" font-size="3.2" text-anchor="middle">TOP</text>
<text class="tb" transform="translate(616 145)" font-size="3.2" text-anchor="middle">HP</text>
<path class="m" d="M584.5 159L579.5 156.5L576.5 164.5L582.5 167"/>
<text class="tb" transform="translate(575.5 162) rotate(20)" font-size="4" text-anchor="middle">3</text>
<path class="m" d="M628 155L633 150.5L640 160.5L636.5 166"/>
<path class="k" d="M636 153.5Q642 152 643.5 158Q644 163 639 164.5"/>
<path class="m" d="M630 166L640 168.5"/>
<ellipse class="m" cx="573.5" cy="181.5" rx="3.6" ry="1.8" transform="rotate(-25 573.5 181.5)"/>
<path class="m" d="M599.5 192.5V197Q599.5 204 606.3 204Q613 204 613 197V193"/>
<path class="k" d="M606.3 193.5L606.3 204"/>
<rect class="kf" x="610.7" y="196.3" width="24.6" height="5.7" rx="1"/>
<rect class="t" x="613" y="197.2" width="20" height="3.8"/>
<path class="k" d="M619.5 196.3V193.5Q619.5 192 621 192H625Q626.5 192 626.5 193.5V196.3"/>
<rect class="t" x="621.3" y="193.5" width="3.4" height="2.8"/>
<path class="k" d="M622 202V207Q622 212 626 212Q629.5 211 629.5 206V202"/>
<path class="m" d="M629.5 203V190"/>
<path class="k" d="M600 209V225 M602.2 209V225 M610.7 209V225 M613 209V225"/>
<path class="th" d="M622 212V222L700 246"/>
<path class="k" d="M545.5 185.5H569 M645 185.5H668.5 M545.5 200H578 M636 200H668.5"/>
<path class="mf" d="M544 229.2H551L555 232.5L563.5 225.7H650.5L659 232.5L663 229.2H670Q673 229.2 673 232V236Q673 238.7 670 238.7H544Q541 238.7 541 236V232Q541 229.2 544 229.2Z"/>
<path class="k" d="M563.5 225.7V238.7 M650.5 225.7V238.7 M552 229.5V238.7 M566 226V238.7 M662 229.5V238.7 M648 226V238.7"/>
<path class="t" d="M555 232.5L559 236"/>
<path class="t" d="M659 232.5L655 236"/>
<circle class="k" cx="606.5" cy="238" r="1.4"/>
<path class="m" d="M562.5 239.9L529.5 256.4L529.5 264.7L562.5 264.7"/>
<path class="k" d="M561 243.5L532 258.2"/>
<path class="k" d="M561 246.5L534 260.2"/>
<path class="k" d="M559 250.5L538 261.3L538 264.7"/>
<path class="k" d="M561.5 238.7L558.5 244.5"/>
<path class="t" d="M554 264.7L554 239"/>
<path class="m" d="M651.5 239.9L684.5 256.4L684.5 264.7L651.5 264.7"/>
<path class="k" d="M653 243.5L682 258.2"/>
<path class="k" d="M653 246.5L680 260.2"/>
<path class="k" d="M655 250.5L676 261.3L676 264.7"/>
<path class="k" d="M652.5 238.7L655.5 244.5"/>
<path class="t" d="M660 264.7L660 239"/>
<path class="m" d="M561.4 238.7V266 M652.6 238.7V266"/>
<path class="k" d="M571 238.7V266 M573.3 238.7V266 M640.8 238.7V266 M643 238.7V266"/>
<path class="t" d="M555.5 265.4H648"/>
<path class="m" d="M565 266Q567 276.6 576 276.6H638Q647 276.6 649 266"/>
<path class="t" d="M568 267.5Q570 274.5 577 274.5H637Q644 274.5 646 267.5"/>
<rect class="k" x="574.5" y="276.6" width="10.5" height="2.4"/>
<rect class="k" x="626.6" y="276.6" width="10.4" height="2.4"/>
<path class="m" d="M580.4 265Q580.4 255.3 586 255.3H622Q627 255.3 629 259L633 267.5H646 M621.8 273Q617.5 272.5 617.5 268V266.5"/>
<path class="k" d="M580.4 265H594V268.5H618"/>
<circle class="bf" cx="605.3" cy="258.8" r="6.6"/>
<circle class="k" cx="605.3" cy="258.8" r="4.6"/>
<path class="k" d="M602.5 261.5V268 M608 261.5V268"/>
<rect class="m" x="600.5" y="267.6" width="10.7" height="3.1"/>
<circle class="kf" cx="587.5" cy="260" r="3.5"/>
<circle class="k" cx="587.5" cy="260" r="1.6"/>
<path class="cl" d="M19 510.6L440 510.6"/>
<path class="m" d="M96.3 430.4L96.3 411.4L109.7 403L190.1 403L203.5 411.4L203.5 430.4"/>
<path class="k" d="M96.3 430.4L203.5 430.4"/>
<path class="k" d="M98.3 410.9L110.3 405.6L189.5 405.6L201.5 410.9"/>
<path class="b" d="M98.2 428.7L98.2 412L108 407L108 428.7Z"/>
<path class="b" d="M201.6 428.7L201.6 412L191.8 407L191.8 428.7Z"/>
<path class="t" d="M98.2 418.4L108 418.4"/>
<path class="t" d="M201.6 418.4L191.8 418.4"/>
<path class="b" d="M118 428.7L118 417.2L130.3 417.2L130.3 428.7Z"/>
<path class="t" d="M118 419.8L130.3 419.8"/>
<path class="b" d="M141 428.7L141 417.2L157.4 417.2L157.4 428.7Z"/>
<path class="t" d="M141 419.8L157.4 419.8"/>
<path class="b" d="M169 428.7L169 417.2L181.3 417.2L181.3 428.7Z"/>
<path class="t" d="M169 419.8L181.3 419.8"/>
<path class="m" d="M144.3 428.7V425.4Q144.3 421.8 149.2 421.8Q154.1 421.8 154.1 425.4V428.7"/>
<path class="mf" d="M121.3 415.6L121.9 402.4L128.1 402.4L128.7 415.6Z"/>
<path class="t" d="M123.1 414.4L123.1 404"/>
<path class="t" d="M126.9 414.4L126.9 404"/>
<path class="mf" d="M146 415.6L146.6 402.4L152.7 402.4L153.3 415.6Z"/>
<path class="t" d="M147.8 414.4L147.8 404"/>
<path class="t" d="M151.5 414.4L151.5 404"/>
<path class="mf" d="M171.4 415.6L172 402.4L178.2 402.4L178.8 415.6Z"/>
<path class="t" d="M173.2 414.4L173.2 404"/>
<path class="t" d="M177 414.4L177 404"/>
<path class="m" d="M108.9 428.7L108.9 405.6"/>
<path class="m" d="M117.1 428.7L117.1 405.6"/>
<path class="k" d="M108.9 413.4L117.1 413.4"/>
<path class="m" d="M131 428.7L131 405.6"/>
<path class="m" d="M140 428.7L140 405.6"/>
<path class="k" d="M131 413.4L140 413.4"/>
<path class="m" d="M158.3 428.7L158.3 405.6"/>
<path class="m" d="M168 428.7L168 405.6"/>
<path class="k" d="M158.3 413.4L168 413.4"/>
<path class="m" d="M182 428.7L182 405.6"/>
<path class="m" d="M190.3 428.7L190.3 405.6"/>
<path class="k" d="M182 413.4L190.3 413.4"/>
<path class="m" d="M113.5 472.4 Q112.4 429.9 128.4 429.9 H205.4 Q221.9 429.9 220.9 472.4"/>
<path class="b" d="M113.5 472.4 Q114.4 497.4 127 498.7 H209 Q220.4 497.4 220.9 472.4"/>
<path class="k" d="M116.4 474.4 Q117.4 493.9 126.4 495.4 H208.4 Q217.4 493.9 218 474.4"/>
<path class="k" d="M111.4 479.4 Q112.4 501.4 126.4 502.6 H209.4 Q222.4 501.4 223.4 479.4"/>
<path class="k" d="M109.4 485.4 Q110.4 505.9 126.4 507 H209.4 Q224.4 505.9 225.4 485.4"/>
<path class="t" d="M122.4 445.4 Q116.4 467.4 124.4 493.4"/>
<path class="t" d="M211.9 445.4 Q217.9 467.4 210.4 493.4"/>
<path class="t" d="M119.4 477.4 Q126.4 481.4 128.4 493.4"/>
<path class="t" d="M214.9 477.4 Q208.4 481.4 206.4 493.4"/>
<path class="m" d="M139.4 438.4 H194.9 Q210.6 438.4 210.6 449.4 V466.4 Q210.6 477.9 194.9 477.9 H139.4 Q123.8 477.9 123.8 466.4 V449.4 Q123.8 438.4 139.4 438.4 Z"/>
<rect class="mf" x="139.6" y="434.5" width="5.6" height="53.5"/>
<rect class="mf" x="164" y="434.5" width="5.6" height="53.5"/>
<rect class="mf" x="189.2" y="434.5" width="5.6" height="53.5"/>
<path class="t" d="M138.9 453.9L124.4 451.4"/>
<path class="t" d="M138.9 460.9L124.4 463.9"/>
<path class="t" d="M138.9 449.4L124.4 443.4"/>
<path class="t" d="M138.9 465.4L124.4 471.9"/>
<path class="t" d="M195.4 453.9L209.9 451.4"/>
<path class="t" d="M195.4 460.9L209.9 463.9"/>
<path class="t" d="M195.4 449.4L209.9 443.4"/>
<path class="t" d="M195.4 465.4L209.9 471.9"/>
<circle class="kf" cx="166.8" cy="457.4" r="9.5"/>
<circle class="m" cx="166.8" cy="457.4" r="5.6"/>
<circle class="k" cx="166.8" cy="457.4" r="3"/>
<path class="m" d="M164 438.4 V448.4 M169.6 438.4 V448.4"/>
<path class="b" d="M126.2 498.4 V481.4 M135.6 481.4 V498.4"/>
<path class="t" d="M128.2 484.4L128.2 497.4"/>
<path class="t" d="M133.6 484.4L133.6 497.4"/>
<path class="b" d="M148.3 498.4 V481.4 M158.5 481.4 V498.4"/>
<path class="t" d="M150.3 484.4L150.3 497.4"/>
<path class="t" d="M156.5 484.4L156.5 497.4"/>
<path class="b" d="M175.9 498.4 V481.4 M185.4 481.4 V498.4"/>
<path class="t" d="M177.9 484.4L177.9 497.4"/>
<path class="t" d="M183.4 484.4L183.4 497.4"/>
<path class="b" d="M198 498.4 V481.4 M207.5 481.4 V498.4"/>
<path class="t" d="M200 484.4L200 497.4"/>
<path class="t" d="M205.5 484.4L205.5 497.4"/>
<path class="b" d="M136.4 498.4 V490.4 H147.5 V498.4"/>
<path class="t" d="M138.4 492.4L138.4 497.4"/>
<path class="t" d="M145.5 492.4L145.5 497.4"/>
<path class="b" d="M158.5 498.4 V489 H175.1 V498.4"/>
<path class="t" d="M160.5 491L160.5 497.4"/>
<path class="t" d="M173.1 491L173.1 497.4"/>
<path class="b" d="M186.2 498.4 V490.4 H197.2 V498.4"/>
<path class="t" d="M188.2 492.4L188.2 497.4"/>
<path class="t" d="M195.2 492.4L195.2 497.4"/>
<path class="k" d="M161.4 499.9 Q166.8 504.4 172.4 499.9"/>
<circle class="bf" cx="130.9" cy="433.7" r="3.4"/>
<circle class="bf" cx="153" cy="433.7" r="3.4"/>
<circle class="bf" cx="180.6" cy="433.7" r="3.4"/>
<circle class="bf" cx="202.7" cy="433.7" r="3.4"/>
<circle class="bf" cx="131.7" cy="481" r="3.4"/>
<circle class="bf" cx="153" cy="481" r="3.4"/>
<circle class="bf" cx="180.6" cy="481" r="3.4"/>
<circle class="bf" cx="202" cy="481" r="3.4"/>
<circle class="bf" cx="117.8" cy="446.3" r="3.4"/>
<circle class="bf" cx="117.8" cy="467.6" r="3.4"/>
<circle class="bf" cx="216.2" cy="446.3" r="3.4"/>
<circle class="bf" cx="216.2" cy="467.6" r="3.4"/>
<path class="m" d="M105 548.2 Q103.9 590.7 119.9 590.7 H196.9 Q213.4 590.7 212.4 548.2"/>
<path class="b" d="M105 548.2 Q105.9 523.2 118.5 521.9 H200.5 Q211.9 523.2 212.4 548.2"/>
<path class="k" d="M107.9 546.2 Q108.9 526.7 117.9 525.2 H199.9 Q208.9 526.7 209.5 546.2"/>
<path class="k" d="M102.9 541.2 Q103.9 519.2 117.9 518 H200.9 Q213.9 519.2 214.9 541.2"/>
<path class="k" d="M100.9 535.2 Q101.9 514.7 117.9 513.6 H200.9 Q215.9 514.7 216.9 535.2"/>
<path class="t" d="M113.9 575.2 Q107.9 553.2 115.9 527.2"/>
<path class="t" d="M203.4 575.2 Q209.4 553.2 201.9 527.2"/>
<path class="t" d="M110.9 543.2 Q117.9 539.2 119.9 527.2"/>
<path class="t" d="M206.4 543.2 Q199.9 539.2 197.9 527.2"/>
<path class="m" d="M130.9 582.2 H186.4 Q202.1 582.2 202.1 571.2 V554.2 Q202.1 542.7 186.4 542.7 H130.9 Q115.3 542.7 115.3 554.2 V571.2 Q115.3 582.2 130.9 582.2 Z"/>
<rect class="mf" x="131.1" y="532.6" width="5.6" height="53.5"/>
<rect class="mf" x="155.5" y="532.6" width="5.6" height="53.5"/>
<rect class="mf" x="180.7" y="532.6" width="5.6" height="53.5"/>
<path class="t" d="M130.4 566.7L115.9 569.2"/>
<path class="t" d="M130.4 559.7L115.9 556.7"/>
<path class="t" d="M130.4 571.2L115.9 577.2"/>
<path class="t" d="M130.4 555.2L115.9 548.7"/>
<path class="t" d="M186.9 566.7L201.4 569.2"/>
<path class="t" d="M186.9 559.7L201.4 556.7"/>
<path class="t" d="M186.9 571.2L201.4 577.2"/>
<path class="t" d="M186.9 555.2L201.4 548.7"/>
<circle class="kf" cx="158.3" cy="563.2" r="9.5"/>
<circle class="m" cx="158.3" cy="563.2" r="5.6"/>
<circle class="k" cx="158.3" cy="563.2" r="3"/>
<path class="m" d="M155.5 582.2 V572.2 M161.1 582.2 V572.2"/>
<path class="b" d="M117.7 522.2 V539.2 M127.1 539.2 V522.2"/>
<path class="t" d="M119.7 536.2L119.7 523.2"/>
<path class="t" d="M125.1 536.2L125.1 523.2"/>
<path class="b" d="M139.8 522.2 V539.2 M150 539.2 V522.2"/>
<path class="t" d="M141.8 536.2L141.8 523.2"/>
<path class="t" d="M148 536.2L148 523.2"/>
<path class="b" d="M167.4 522.2 V539.2 M176.9 539.2 V522.2"/>
<path class="t" d="M169.4 536.2L169.4 523.2"/>
<path class="t" d="M174.9 536.2L174.9 523.2"/>
<path class="b" d="M189.5 522.2 V539.2 M199 539.2 V522.2"/>
<path class="t" d="M191.5 536.2L191.5 523.2"/>
<path class="t" d="M197 536.2L197 523.2"/>
<path class="b" d="M127.9 522.2 V530.2 H139 V522.2"/>
<path class="t" d="M129.9 528.2L129.9 523.2"/>
<path class="t" d="M137 528.2L137 523.2"/>
<path class="b" d="M150 522.2 V531.6 H166.6 V522.2"/>
<path class="t" d="M152 529.6L152 523.2"/>
<path class="t" d="M164.6 529.6L164.6 523.2"/>
<path class="b" d="M177.7 522.2 V530.2 H188.7 V522.2"/>
<path class="t" d="M179.7 528.2L179.7 523.2"/>
<path class="t" d="M186.7 528.2L186.7 523.2"/>
<path class="k" d="M152.9 520.7 Q158.3 516.2 163.9 520.7"/>
<circle class="bf" cx="122.4" cy="586.9" r="3.4"/>
<circle class="bf" cx="144.5" cy="586.9" r="3.4"/>
<circle class="bf" cx="172.1" cy="586.9" r="3.4"/>
<circle class="bf" cx="194.2" cy="586.9" r="3.4"/>
<circle class="bf" cx="123.2" cy="539.6" r="3.4"/>
<circle class="bf" cx="144.5" cy="539.6" r="3.4"/>
<circle class="bf" cx="172.1" cy="539.6" r="3.4"/>
<circle class="bf" cx="193.5" cy="539.6" r="3.4"/>
<circle class="bf" cx="109.3" cy="574.3" r="3.4"/>
<circle class="bf" cx="109.3" cy="553" r="3.4"/>
<circle class="bf" cx="207.7" cy="574.3" r="3.4"/>
<circle class="bf" cx="207.7" cy="553" r="3.4"/>
<path class="m" d="M87.6 590.6L87.6 609.6L101 618L181.4 618L194.8 609.6L194.8 590.6"/>
<path class="k" d="M87.6 590.6L194.8 590.6"/>
<path class="k" d="M89.6 610.1L101.6 615.4L180.8 615.4L192.8 610.1"/>
<path class="b" d="M89.5 592.3L89.5 609L99.3 614L99.3 592.3Z"/>
<path class="b" d="M192.9 592.3L192.9 609L183.1 614L183.1 592.3Z"/>
<path class="t" d="M89.5 602.6L99.3 602.6"/>
<path class="t" d="M192.9 602.6L183.1 602.6"/>
<path class="b" d="M109.3 592.3L109.3 603.8L121.6 603.8L121.6 592.3Z"/>
<path class="t" d="M109.3 601.2L121.6 601.2"/>
<path class="b" d="M132.3 592.3L132.3 603.8L148.7 603.8L148.7 592.3Z"/>
<path class="t" d="M132.3 601.2L148.7 601.2"/>
<path class="b" d="M160.3 592.3L160.3 603.8L172.6 603.8L172.6 592.3Z"/>
<path class="t" d="M160.3 601.2L172.6 601.2"/>
<path class="m" d="M135.6 592.3V595.6Q135.6 599.2 140.5 599.2Q145.4 599.2 145.4 595.6V592.3"/>
<path class="mf" d="M112.6 605.4L113.2 618.6L119.4 618.6L120 605.4Z"/>
<path class="t" d="M114.4 606.6L114.4 617"/>
<path class="t" d="M118.2 606.6L118.2 617"/>
<path class="mf" d="M137.3 605.4L137.9 618.6L144 618.6L144.6 605.4Z"/>
<path class="t" d="M139.1 606.6L139.1 617"/>
<path class="t" d="M142.8 606.6L142.8 617"/>
<path class="mf" d="M162.7 605.4L163.3 618.6L169.5 618.6L170.1 605.4Z"/>
<path class="t" d="M164.5 606.6L164.5 617"/>
<path class="t" d="M168.3 606.6L168.3 617"/>
<path class="m" d="M100.2 592.3L100.2 615.4"/>
<path class="m" d="M108.4 592.3L108.4 615.4"/>
<path class="k" d="M100.2 607.6L108.4 607.6"/>
<path class="m" d="M122.3 592.3L122.3 615.4"/>
<path class="m" d="M131.3 592.3L131.3 615.4"/>
<path class="k" d="M122.3 607.6L131.3 607.6"/>
<path class="m" d="M149.6 592.3L149.6 615.4"/>
<path class="m" d="M159.3 592.3L159.3 615.4"/>
<path class="k" d="M149.6 607.6L159.3 607.6"/>
<path class="m" d="M173.3 592.3L173.3 615.4"/>
<path class="m" d="M181.6 592.3L181.6 615.4"/>
<path class="k" d="M173.3 607.6L181.6 607.6"/>
<path class="k" d="M85.8 449V593 M85.8 449.5H113 M85.8 593H102"/>
<path class="t" d="M88.5 452V465 M88.5 452H112"/>
<rect class="k" x="89.6" y="465.4" width="22.9" height="24.2"/>
<rect class="t" x="91" y="467" width="20" height="21"/>
<circle class="k" cx="104" cy="469" r="0.7"/>
<circle class="k" cx="104" cy="486.5" r="0.7"/>
<path class="m" d="M85.8 497.2H94.7V523.9H85.8"/>
<path class="m" d="M85.8 493.4H97Q102 494 102.5 499 M85.8 526.4H96Q101 526 102 521"/>
<circle class="bf" cx="103.5" cy="510" r="5.8"/>
<circle class="dk" cx="103.5" cy="510" r="3.8"/>
<circle class="wl" cx="103.5" cy="510" r="1.8"/>
<path class="k" d="M103.5 516L103.5 519"/>
<path class="k" d="M85.8 531H100Q106 531 108 526 M85.8 571H97 M100 531Q103 545 110 549"/>
<path class="t" d="M88.5 533V570 M90.5 533V570"/>
<rect class="m" x="80.7" y="455.3" width="5.1" height="115.7"/>
<rect class="k" x="78.8" y="457" width="1.9" height="4"/>
<rect class="k" x="78.8" y="562.5" width="1.9" height="4"/>
<rect class="m" x="49.7" y="470.5" width="34.8" height="20.4" rx="1.5"/>
<path class="k" d="M49.7 474.3H84.5 M49.7 480.7H84.5 M49.7 484.5H84.5 M55.3 470.5V490.9 M78 470.5V490.9"/>
<path class="t" d="M52 470.5V474.3 M82 470.5V474.3"/>
<path class="m" d="M54 490.9V530.3H74.3V490.9"/>
<rect class="k" x="56.5" y="494" width="8.9" height="33"/>
<path class="t" d="M59 494V527 M62.5 494V527"/>
<path class="m" d="M74.3 493.4H85.3V526.4H74.3"/>
<path class="k" d="M65.4 500H74.3 M65.4 521H74.3"/>
<path class="t" d="M77 493.4V526.4"/>
<path class="k" d="M66 514L70 519M70 514V519H74"/>
<rect class="k" x="46.7" y="520.3" width="4.3" height="4.7"/>
<path class="k" d="M51 522.6L54 522.6"/>
<path class="m" d="M57.5 530.3V534.5H75.5V530.3 M61.6 534.5V545.5 M71.8 534.5V545.5 M57.8 545.5H73V553.1H57.8Z M59.5 553.1V557.5H71.8V553.1 M61.8 557.5L63 569.7H70.5L71.6 557.5"/>
<path class="t" d="M57.8 548H73 M57.8 550.8H73 M61.6 538H71.8 M61.6 541.5H71.8"/>
<path class="t" d="M74.3 530.3L80.7 540 M75.5 534.5L80.7 543"/>
<path class="k" d="M221.4 448.6L240.8 443 M221.4 570.8L240.8 577.8 M221.4 448.6V477 M221.4 543V570.8 M225.6 447.5V572 M239.4 443V578"/>
<rect class="k" x="228.3" y="451.4" width="10.6" height="16.6"/>
<rect class="k" x="228.3" y="552.8" width="10.6" height="16.6"/>
<path class="t" d="M230.5 453.5V466H238.9 M230.5 567.3V555H238.9"/>
<path class="k" d="M215 484.7L239.4 484.7"/>
<path class="k" d="M215 491.7L239.4 491.7"/>
<path class="k" d="M215 500L239.4 500"/>
<path class="k" d="M215 519.4L239.4 519.4"/>
<path class="k" d="M215 522.2L239.4 522.2"/>
<path class="k" d="M215 534.7L239.4 534.7"/>
<path class="t" d="M221 487.5L239.4 487.5"/>
<path class="t" d="M221 537L239.4 537"/>
<path class="t" d="M229.5 484.7V534.7 M233.5 500V519.4"/>
<path class="k" d="M218 503V516 M219 498H222 "/>
<path class="k" d="M240.8 443H313 M240.8 577.8H313"/>
<path class="k" d="M240.8 441.5H316 M240.8 579.3H316"/>
<path class="k" d="M247 443L247 451.5"/>
<path class="k" d="M247 569.5L247 577.8"/>
<path class="k" d="M253 443L253 451.5"/>
<path class="k" d="M253 569.5L253 577.8"/>
<path class="k" d="M262 443L262 451.5"/>
<path class="k" d="M262 569.5L262 577.8"/>
<path class="k" d="M268 443L268 451.5"/>
<path class="k" d="M268 569.5L268 577.8"/>
<path class="k" d="M277 443L277 451.5"/>
<path class="k" d="M277 569.5L277 577.8"/>
<path class="k" d="M283 443L283 451.5"/>
<path class="k" d="M283 569.5L283 577.8"/>
<path class="k" d="M292 443L292 451.5"/>
<path class="k" d="M292 569.5L292 577.8"/>
<path class="k" d="M298 443L298 451.5"/>
<path class="k" d="M298 569.5L298 577.8"/>
<path class="k" d="M307 443L307 451.5"/>
<path class="k" d="M307 569.5L307 577.8"/>
<path class="t" d="M249.5 446L250.5 446"/>
<path class="t" d="M264.5 446L265.5 446"/>
<path class="t" d="M279.5 446L280.5 446"/>
<path class="t" d="M294.5 446L295.5 446"/>
<path class="t" d="M240.8 447.5L313 447.5"/>
<path class="t" d="M240.8 573.5L313 573.5"/>
<path class="m" d="M286 441.5V436.5Q286 434.6 288 434.6H314.5Q316.6 434.6 316.6 436.5V441.5"/>
<path class="k" d="M290.5 434.6V441.5 M312 434.6V441.5 M288.5 437.5H314.5"/>
<path class="m" d="M286 579.3V583.5Q286 585.4 288 585.4H314.5Q316.6 585.4 316.6 583.5V579.3"/>
<path class="k" d="M290.5 585.4V579.3 M312 585.4V579.3 M288.5 582.5H314.5"/>
<rect class="m" x="239.7" y="451.6" width="73.8" height="118.4" rx="2"/>
<rect class="k" x="241.9" y="453.8" width="69.4" height="114" rx="1.5"/>
<circle class="kf" cx="241.4" cy="452.8" r="1.5"/>
<circle class="kf" cx="311.8" cy="452.8" r="1.5"/>
<circle class="kf" cx="241.4" cy="568.6" r="1.5"/>
<circle class="kf" cx="311.8" cy="568.6" r="1.5"/>
<circle class="kf" cx="241.4" cy="510" r="1.5"/>
<circle class="kf" cx="311.8" cy="510" r="1.5"/>
<rect class="lg" x="260.4" y="474.6" width="31.8" height="71.8"/>
<rect class="lgi" x="262" y="476.2" width="28.6" height="68.6"/>
<text transform="translate(288.3 542.3) rotate(-90)" class="lgt" font-size="33" textLength="62.5" lengthAdjust="spacingAndGlyphs">frascold</text>
<path class="k" d="M313.5 456H317Q318 444 326 443H339 M313.5 566H317Q318 578.5 326 579.6H339"/>
<path class="m" d="M327.9 443V579.6 M330.6 443V579.6"/>
<path class="k" d="M339 440.3L339 579.6"/>
<path class="k" d="M316 461Q324.5 463 325 474Q324.5 486 316 487.7 M316 535Q324.5 537 325 547Q324.5 557 316 558.7"/>
<path class="t" d="M318.5 464Q322.5 468 322.5 474Q322.5 481 318.5 485 M318.5 538Q322.5 542 322.5 547Q322.5 553 318.5 556"/>
<path class="k" d="M313.5 490H327.9 M313.5 531H327.9 M330.6 466.8H339 M330.6 555H339"/>
<path class="k" d="M351.5 450V442Q351.5 440.3 353.5 440.3H383Q385 440.3 385 442V450"/>
<rect class="k" x="339" y="450" width="58.5" height="16.8" rx="2"/>
<path class="k" d="M348.7 450V466.8 M390.5 450V466.8 M339 453H397.5 M339 463.5H397.5"/>
<path class="k" d="M337.6 466.8V480.7 M398.9 466.8V480.7 M348.7 466.8V480.7 M390.5 466.8V480.7 M337.6 470H398.9"/>
<path class="k" d="M334.8 479.3V542H339"/>
<rect class="m" x="339" y="480.7" width="59.9" height="59.9" rx="3"/>
<circle class="kf" cx="368.8" cy="511.4" r="29"/>
<path class="k" d="M357 484.5Q368.8 478.5 380.5 484.5"/>
<path class="k" d="M360.5 481Q368.8 489 377 481"/>
<circle class="tf" cx="346" cy="489.6" r="8.3"/>
<circle class="bf" cx="346" cy="489.6" r="5.4"/>
<circle class="dk2" cx="346" cy="489.6" r="4.1"/>
<circle class="wl" cx="346" cy="489.6" r="2.97"/>
<circle class="wl" cx="346" cy="489.6" r="1.62"/>
<path class="wl" d="M344.5 488.1L347.5 491.1"/>
<path class="wl" d="M344.5 491.1L347.5 488.1"/>
<circle class="tf" cx="389.1" cy="489.6" r="8.3"/>
<circle class="bf" cx="389.1" cy="489.6" r="5.4"/>
<circle class="dk2" cx="389.1" cy="489.6" r="4.1"/>
<circle class="wl" cx="389.1" cy="489.6" r="2.97"/>
<circle class="wl" cx="389.1" cy="489.6" r="1.62"/>
<path class="wl" d="M387.6 488.1L390.6 491.1"/>
<path class="wl" d="M387.6 491.1L390.6 488.1"/>
<circle class="tf" cx="346" cy="530.3" r="8.3"/>
<circle class="bf" cx="346" cy="530.3" r="5.4"/>
<circle class="dk2" cx="346" cy="530.3" r="4.1"/>
<circle class="wl" cx="346" cy="530.3" r="2.97"/>
<circle class="wl" cx="346" cy="530.3" r="1.62"/>
<path class="wl" d="M344.5 528.8L347.5 531.8"/>
<path class="wl" d="M344.5 531.8L347.5 528.8"/>
<circle class="tf" cx="389.1" cy="530.3" r="8.3"/>
<circle class="bf" cx="389.1" cy="530.3" r="5.4"/>
<circle class="dk2" cx="389.1" cy="530.3" r="4.1"/>
<circle class="wl" cx="389.1" cy="530.3" r="2.97"/>
<circle class="wl" cx="389.1" cy="530.3" r="1.62"/>
<path class="wl" d="M387.6 528.8L390.6 531.8"/>
<path class="wl" d="M387.6 531.8L390.6 528.8"/>
<path class="m" d="M361 540.6V532Q361 524 368 524Q375 524 375 532V540.6"/>
<circle class="k" cx="367.8" cy="531" r="2.6"/>
<rect class="k" x="398.9" y="491" width="3.7" height="4.4"/>
<rect class="k" x="398.9" y="509.2" width="3.7" height="4.4"/>
<rect class="k" x="398.9" y="524.5" width="3.7" height="4.4"/>
<path class="m" d="M380 520L386 524"/>
<path class="k" d="M339 542V578H386.4V542 M357.1 542V567H380.8V542 M361.3 567V586.6H375.2V567"/>
<path class="t" d="M359 567V571H377.5V567 M357.1 548H380.8 M341.5 542V578 M345 560H357 M345 571H386 M361.3 575H375.2"/>
<path class="k" d="M386.4 546H392L396 542 M386.4 553H391.5V575H386.4 M391.5 556H395V562H391.5"/>
<path class="t" d="M383 542L389 549V566"/>
<path class="d" d="M66 63L106.5 63"/>
<path class="ar" d="M66 63L72 61.8L72 64.2Z"/>
<path class="ar" d="M106.5 63L100.5 64.2L100.5 61.8Z"/>
<text class="tx" transform="translate(88 60) scale(0.97 1)" font-size="10.6" text-anchor="middle">L</text>
<path class="d" d="M66 58L66 99"/>
<path class="d" d="M106.5 58L106.5 100"/>
<text class="tx" transform="translate(34 68) scale(0.87 1)" font-size="11.4" text-anchor="middle">DV</text>
<path class="d" d="M34 71L55.5 105"/>
<path class="d" d="M20 118.3L20 268.4"/>
<path class="ar" d="M20 118.3L21.2 124.3L18.8 124.3Z"/>
<path class="ar" d="M20 268.4L18.8 262.4L21.2 262.4Z"/>
<text class="tx" transform="translate(14.5 193) rotate(-90) scale(0.97 1)" font-size="10.6" text-anchor="middle">M</text>
<path class="cl" d="M16 118.3L100 118.3"/>
<path class="d" d="M16 268.4L80 268.4"/>
<path class="d" d="M51.5 100L51.5 352"/>
<path class="d" d="M396.7 100L396.7 352"/>
<path class="d" d="M51.5 322.5L106.5 322.5"/>
<path class="ar" d="M51.5 322.5L57.5 321.3L57.5 323.7Z"/>
<path class="ar" d="M106.5 322.5L100.5 323.7L100.5 321.3Z"/>
<path class="d" d="M106.5 322.5L302.5 322.5"/>
<path class="ar" d="M106.5 322.5L112.5 321.3L112.5 323.7Z"/>
<path class="ar" d="M302.5 322.5L296.5 323.7L296.5 321.3Z"/>
<text class="tx" transform="translate(82 318.5) scale(0.97 1)" font-size="10.6" text-anchor="middle">139</text>
<text class="tx" transform="translate(201.5 318.5) scale(0.97 1)" font-size="10.6" text-anchor="middle">D</text>
<path class="cl" d="M106.5 255L106.5 326"/>
<path class="cl" d="M302.5 235L302.5 326"/>
<path class="d" d="M51.5 347.5L396.7 347.5"/>
<path class="ar" d="M51.5 347.5L57.5 346.3L57.5 348.7Z"/>
<path class="ar" d="M396.7 347.5L390.7 348.7L390.7 346.3Z"/>
<text class="tx" transform="translate(215 344.5) scale(0.97 1)" font-size="10.6" text-anchor="middle">A</text>
<path class="d" d="M302.5 19.5L368 19.5"/>
<path class="ar" d="M302.5 19.5L308.5 18.3L308.5 20.7Z"/>
<path class="ar" d="M368 19.5L362 20.7L362 18.3Z"/>
<text class="tx" transform="translate(335 14.5) scale(0.97 1)" font-size="10.6" text-anchor="middle">F</text>
<path class="cl" d="M302.5 15L302.5 100"/>
<text class="tx" transform="translate(412 20.5) scale(0.87 1)" font-size="11.4" text-anchor="middle">SV</text>
<path class="d" d="M406 22L392 40"/>
<path class="ar" d="M390 42.5L391.67 38.73L393.25 39.96Z"/>
<path class="d" d="M444.3 64.3L444.3 269"/>
<path class="ar" d="M444.3 64.3L445.5 70.3L443.1 70.3Z"/>
<path class="ar" d="M444.3 269L443.1 263L445.5 263Z"/>
<text class="tx" transform="translate(440 169) rotate(-90) scale(0.97 1)" font-size="10.6" text-anchor="middle">G</text>
<path class="cl" d="M360 64.3L447 64.3"/>
<path class="d" d="M312 269L447 269"/>
<text class="tx" transform="translate(422 131) scale(0.87 1)" font-size="11.4" text-anchor="middle">2</text>
<path class="d" d="M417 121.5L403 113.5"/>
<path class="ar" d="M403 113.5L407.83 115.13L406.83 116.87Z"/>
<text class="tx" transform="translate(425 230) scale(0.87 1)" font-size="11.4" text-anchor="middle">12</text>
<path class="d" d="M418 221.5L400 212"/>
<path class="ar" d="M400 212L404.88 213.46L403.95 215.23Z"/>
<text class="tx" transform="translate(229 156) scale(0.87 1)" font-size="11.4" text-anchor="middle">2</text>
<path class="d" d="M226 157L212 172"/>
<text class="tx" transform="translate(227 212) scale(0.87 1)" font-size="11.4" text-anchor="middle">4</text>
<path class="d" d="M222 208.5L214 208.5"/>
<path class="ar" d="M203 217L206.42 214.69L207.1 216.57Z"/>
<path class="d" d="M579.8 30L755 30"/>
<path class="d" d="M640 276.5L755 276.5"/>
<path class="d" d="M753 30L753 276.5"/>
<path class="ar" d="M753 30L754.2 36L751.8 36Z"/>
<path class="ar" d="M753 276.5L751.8 270.5L754.2 270.5Z"/>
<text class="tx" transform="translate(748 153) rotate(-90) scale(0.97 1)" font-size="10.6" text-anchor="middle">C</text>
<path class="d" d="M500 203L500 352"/>
<path class="d" d="M711.4 203L711.4 352"/>
<path class="cl" d="M543.7 240L543.7 326"/>
<path class="cl" d="M668.7 240L668.7 326"/>
<path class="d" d="M500 322.5L543.7 322.5"/>
<path class="ar" d="M500 322.5L506 321.3L506 323.7Z"/>
<path class="ar" d="M543.7 322.5L537.7 323.7L537.7 321.3Z"/>
<path class="d" d="M543.7 322.5L668.7 322.5"/>
<path class="ar" d="M543.7 322.5L549.7 321.3L549.7 323.7Z"/>
<path class="ar" d="M668.7 322.5L662.7 323.7L662.7 321.3Z"/>
<path class="d" d="M493 322.5L500 322.5"/>
<text class="tx" transform="translate(522.5 321) scale(0.97 1)" font-size="10.6" text-anchor="middle">103</text>
<text class="tx" transform="translate(603.5 321) scale(0.97 1)" font-size="10.6" text-anchor="middle">E</text>
<path class="d" d="M500 346.5L711.4 346.5"/>
<path class="ar" d="M500 346.5L506 345.3L506 347.7Z"/>
<path class="ar" d="M711.4 346.5L705.4 347.7L705.4 345.3Z"/>
<text class="tx" transform="translate(606 344.5) scale(0.97 1)" font-size="10.6" text-anchor="middle">B</text>
<path class="d" d="M699.2 252L699.2 264.7"/>
<path class="ar" d="M699.2 264.7L698.1 258.7L700.3 258.7Z"/>
<path class="d" d="M699.2 276.5L699.2 300"/>
<path class="ar" d="M699.2 276.5L700.3 282.5L698.1 282.5Z"/>
<path class="d" d="M681 264.7L704 264.7"/>
<text class="tx" transform="translate(697 292.5) rotate(-90) scale(0.97 1)" font-size="10.6" text-anchor="middle">31</text>
<text class="tx" transform="translate(521.5 279.5) scale(0.97 1)" font-size="10.6" text-anchor="middle">Ø 11</text>
<path class="d" d="M507.5 281.3L541 281.3"/>
<path class="ar" d="M541 281.3L535 282.3L535 280.3Z"/>
<path class="d" d="M545.6 281.3L559 281.3"/>
<path class="ar" d="M545.6 281.3L551.6 280.3L551.6 282.3Z"/>
<path class="d" d="M541 262L541 284"/>
<path class="d" d="M545.6 262L545.6 284"/>
<text class="tx" transform="translate(509 123.5) scale(0.87 1)" font-size="11.4" text-anchor="middle">7</text>
<path class="d" d="M513 124L537 136"/>
<text class="tx" transform="translate(704 123.5) scale(0.87 1)" font-size="11.4" text-anchor="middle">7</text>
<path class="d" d="M699 124L675 136"/>
<text class="tx" transform="translate(554 170) scale(0.87 1)" font-size="11.4" text-anchor="middle">8</text>
<path class="d" d="M554 150L554 158"/>
<path class="ar" d="M554 149L554.9 153L553.1 153Z"/>
<text class="tx" transform="translate(659 173) scale(0.87 1)" font-size="11.4" text-anchor="middle">1</text>
<path class="d" d="M659 150L659 158"/>
<path class="ar" d="M659 149L659.9 153L658.1 153Z"/>
<text class="tx" transform="translate(563.5 214.5) scale(0.87 1)" font-size="11.4" text-anchor="middle">12</text>
<path class="d" d="M557 200L557 206"/>
<path class="ar" d="M557 199L557.9 203L556.1 203Z"/>
<text class="tx" transform="translate(588.5 220.5) scale(0.87 1)" font-size="11.4" text-anchor="middle">11</text>
<path class="d" d="M591 224L602 255"/>
<text class="tx" transform="translate(643.5 223) scale(0.87 1)" font-size="11.4" text-anchor="middle">3</text>
<path class="d" d="M643.5 201L643.5 207"/>
<path class="ar" d="M643.5 200L644.4 204L642.6 204Z"/>
<text class="tx" transform="translate(661.5 223) scale(0.87 1)" font-size="11.4" text-anchor="middle">9</text>
<path class="d" d="M659.5 201L659.5 207"/>
<path class="ar" d="M659.5 200L660.4 204L658.6 204Z"/>
<text class="tx" transform="translate(730 236) scale(0.87 1)" font-size="11.4" text-anchor="middle">15</text>
<path class="d" d="M722 231L645 168"/>
<text class="tx" transform="translate(732 258.5) scale(0.87 1)" font-size="11.4" text-anchor="middle">10</text>
<path class="d" d="M723 254L660 232"/>
<path class="d" d="M660 232L622 225"/>
<path class="d" d="M622 225L622 205"/>
<text class="tx" transform="translate(583 301) scale(0.87 1)" font-size="11.4" text-anchor="middle">5</text>
<path class="d" d="M585.7 264L585.7 288"/>
<text class="tx" transform="translate(607 301) scale(0.87 1)" font-size="11.4" text-anchor="middle">13</text>
<path class="d" d="M604.5 268L604.5 288"/>
<text class="tx" transform="translate(81 400) scale(0.87 1)" font-size="11.4" text-anchor="middle">NP</text>
<path class="d" d="M83 402L105 463"/>
<path class="ar" d="M105.5 464.5L103.29 461.05L104.98 460.43Z"/>
<text class="tx" transform="translate(33 565) scale(0.87 1)" font-size="11.4" text-anchor="middle">DV</text>
<path class="d" d="M39 554L65 525"/>
<text class="tx" transform="translate(55 617) scale(0.87 1)" font-size="11.4" text-anchor="middle">14</text>
<path class="d" d="M59 606L102 548"/>
<path class="d" d="M22.8 470L22.8 510.6"/>
<path class="ar" d="M22.8 470L23.8 476L21.8 476Z"/>
<path class="ar" d="M22.8 510.6L21.8 504.6L23.8 504.6Z"/>
<text class="tx" transform="translate(20 490.5) rotate(-90) scale(0.97 1)" font-size="10.6" text-anchor="middle">N</text>
<path class="d" d="M19 470L60 470"/>
<path class="d" d="M435.6 439L435.6 511"/>
<path class="ar" d="M435.6 439L436.8 445L434.4 445Z"/>
<path class="ar" d="M435.6 511L434.4 505L436.8 505Z"/>
<text class="tx" transform="translate(432.5 475) rotate(-90) scale(0.97 1)" font-size="10.6" text-anchor="middle">H</text>
<path class="d" d="M390 439L439 439"/>
<text class="tx" transform="translate(436 561) scale(0.87 1)" font-size="11.4" text-anchor="middle">SV</text>
<path class="d" d="M427 550L396 526"/>
<text class="tv" x="462" y="460" font-size="16" textLength="103.5" lengthAdjust="spacingAndGlyphs">Vibration absorber</text>
<text x="464" y="498.7" font-size="14.5" fill="#333" font-family="&quot;Liberation Sans&quot;,&quot;Noto Sans CJK TC&quot;,sans-serif" font-weight="300" letter-spacing="1.4">避震器</text>
<path class="k" d="M676 417L696 417L699 422.15L696 427.3L676 427.3L673 422.15Z"/>
<path class="k" d="M680.5 417L680.5 427.3"/>
<path class="k" d="M691.5 417L691.5 427.3"/>
<path class="t" d="M676 418.5Q674.5 422.15 676 425.8 M696 418.5Q697.5 422.15 696 425.8"/>
<path class="k" d="M676 576.7L696 576.7L699 581.85L696 587L676 587L673 581.85Z"/>
<path class="k" d="M680.5 576.7L680.5 587"/>
<path class="k" d="M691.5 576.7L691.5 587"/>
<path class="t" d="M676 578.2Q674.5 581.85 676 585.5 M696 578.2Q697.5 581.85 696 585.5"/>
<defs><pattern id="h1" width="3" height="3" patternUnits="userSpaceOnUse" patternTransform="rotate(-45)"><rect width="3" height="3" fill="#fff"/><line x1="0" y1="0" x2="3" y2="0" stroke="#333" stroke-width="1.3"/></pattern><pattern id="h2" width="2.4" height="2.4" patternUnits="userSpaceOnUse" patternTransform="rotate(50)"><rect width="3" height="3" fill="#fff"/><line x1="0" y1="0" x2="3" y2="0" stroke="#333" stroke-width="1.2"/></pattern></defs>
<path class="k" d="M619.3 445H679V454H623Z" style="fill:url(#h1)"/>
<path class="k" d="M693.6 445H708V454H693.6Z" style="fill:url(#h1)"/>
<path class="t" d="M679 445L693.6 445"/>
<path class="t" d="M679 454L693.6 454"/>
<path class="t" d="M652.3 568.4H679.3V572.2H655Z" style="fill:url(#h2)"/>
<path class="t" d="M693.3 568.4H719.6L717 572.2H693.3Z" style="fill:url(#h2)"/>
<path class="t" d="M679.3 568.4L693.3 568.4"/>
<path class="t" d="M679.3 572.2L693.3 572.2"/>
<rect class="t" x="679.7" y="466.5" width="13" height="27.5" rx="1.5"/>
<rect class="t" x="679.7" y="531.4" width="13" height="27.6" rx="1.5"/>
<path class="t" d="M682 467L682 494"/>
<path class="t" d="M682 531.4L682 558.5"/>
<path class="t" d="M690.4 467L690.4 494"/>
<path class="t" d="M690.4 531.4L690.4 558.5"/>
<path class="th" d="M680 467L682 467"/>
<path class="th" d="M690.4 467L692.5 467"/>
<path class="th" d="M680 468.3L682 468.3"/>
<path class="th" d="M690.4 468.3L692.5 468.3"/>
<path class="th" d="M680 469.6L682 469.6"/>
<path class="th" d="M690.4 469.6L692.5 469.6"/>
<path class="th" d="M680 470.9L682 470.9"/>
<path class="th" d="M690.4 470.9L692.5 470.9"/>
<path class="th" d="M680 472.2L682 472.2"/>
<path class="th" d="M690.4 472.2L692.5 472.2"/>
<path class="th" d="M680 473.5L682 473.5"/>
<path class="th" d="M690.4 473.5L692.5 473.5"/>
<path class="th" d="M680 474.8L682 474.8"/>
<path class="th" d="M690.4 474.8L692.5 474.8"/>
<path class="th" d="M680 476.1L682 476.1"/>
<path class="th" d="M690.4 476.1L692.5 476.1"/>
<path class="th" d="M680 477.4L682 477.4"/>
<path class="th" d="M690.4 477.4L692.5 477.4"/>
<path class="th" d="M680 478.7L682 478.7"/>
<path class="th" d="M690.4 478.7L692.5 478.7"/>
<path class="th" d="M680 480L682 480"/>
<path class="th" d="M690.4 480L692.5 480"/>
<path class="th" d="M680 481.3L682 481.3"/>
<path class="th" d="M690.4 481.3L692.5 481.3"/>
<path class="th" d="M680 482.6L682 482.6"/>
<path class="th" d="M690.4 482.6L692.5 482.6"/>
<path class="th" d="M680 483.9L682 483.9"/>
<path class="th" d="M690.4 483.9L692.5 483.9"/>
<path class="th" d="M680 485.2L682 485.2"/>
<path class="th" d="M690.4 485.2L692.5 485.2"/>
<path class="th" d="M680 486.5L682 486.5"/>
<path class="th" d="M690.4 486.5L692.5 486.5"/>
<path class="th" d="M680 487.8L682 487.8"/>
<path class="th" d="M690.4 487.8L692.5 487.8"/>
<path class="th" d="M680 489.1L682 489.1"/>
<path class="th" d="M690.4 489.1L692.5 489.1"/>
<path class="th" d="M680 490.4L682 490.4"/>
<path class="th" d="M690.4 490.4L692.5 490.4"/>
<path class="th" d="M680 491.7L682 491.7"/>
<path class="th" d="M690.4 491.7L692.5 491.7"/>
<path class="th" d="M680 493L682 493"/>
<path class="th" d="M690.4 493L692.5 493"/>
<path class="th" d="M680 532L682 532"/>
<path class="th" d="M690.4 532L692.5 532"/>
<path class="th" d="M680 533.3L682 533.3"/>
<path class="th" d="M690.4 533.3L692.5 533.3"/>
<path class="th" d="M680 534.6L682 534.6"/>
<path class="th" d="M690.4 534.6L692.5 534.6"/>
<path class="th" d="M680 535.9L682 535.9"/>
<path class="th" d="M690.4 535.9L692.5 535.9"/>
<path class="th" d="M680 537.2L682 537.2"/>
<path class="th" d="M690.4 537.2L692.5 537.2"/>
<path class="th" d="M680 538.5L682 538.5"/>
<path class="th" d="M690.4 538.5L692.5 538.5"/>
<path class="th" d="M680 539.8L682 539.8"/>
<path class="th" d="M690.4 539.8L692.5 539.8"/>
<path class="th" d="M680 541.1L682 541.1"/>
<path class="th" d="M690.4 541.1L692.5 541.1"/>
<path class="th" d="M680 542.4L682 542.4"/>
<path class="th" d="M690.4 542.4L692.5 542.4"/>
<path class="th" d="M680 543.7L682 543.7"/>
<path class="th" d="M690.4 543.7L692.5 543.7"/>
<path class="th" d="M680 545L682 545"/>
<path class="th" d="M690.4 545L692.5 545"/>
<path class="th" d="M680 546.3L682 546.3"/>
<path class="th" d="M690.4 546.3L692.5 546.3"/>
<path class="th" d="M680 547.6L682 547.6"/>
<path class="th" d="M690.4 547.6L692.5 547.6"/>
<path class="th" d="M680 548.9L682 548.9"/>
<path class="th" d="M690.4 548.9L692.5 548.9"/>
<path class="th" d="M680 550.2L682 550.2"/>
<path class="th" d="M690.4 550.2L692.5 550.2"/>
<path class="th" d="M680 551.5L682 551.5"/>
<path class="th" d="M690.4 551.5L692.5 551.5"/>
<path class="th" d="M680 552.8L682 552.8"/>
<path class="th" d="M690.4 552.8L692.5 552.8"/>
<path class="th" d="M680 554.1L682 554.1"/>
<path class="th" d="M690.4 554.1L692.5 554.1"/>
<path class="th" d="M680 555.4L682 555.4"/>
<path class="th" d="M690.4 555.4L692.5 555.4"/>
<path class="th" d="M680 556.7L682 556.7"/>
<path class="th" d="M690.4 556.7L692.5 556.7"/>
<path class="th" d="M680 558L682 558"/>
<path class="th" d="M690.4 558L692.5 558"/>
<rect class="k" x="667.5" y="494" width="37.5" height="37.4" style="fill:#b6b6b6"/>
<path class="t" d="M667.5 516.7L705 516.7"/>
<path class="d" d="M722 466.5L722 559"/>
<path class="d" d="M718.5 468.3L725.5 464.7"/>
<path class="d" d="M718.5 495.8L725.5 492.2"/>
<path class="d" d="M718.5 533.2L725.5 529.6"/>
<path class="d" d="M718.5 560.8L725.5 557.2"/>
<path class="ar" d="M722 466.5L722.9 471.5L721.1 471.5Z"/>
<path class="ar" d="M722 494L721.1 489L722.9 489Z"/>
<path class="ar" d="M722 494L722.9 499L721.1 499Z"/>
<path class="ar" d="M722 531.4L721.1 526.4L722.9 526.4Z"/>
<path class="ar" d="M722 531.4L722.9 536.4L721.1 536.4Z"/>
<path class="ar" d="M722 559L721.1 554L722.9 554Z"/>
<path class="d" d="M693 466.5L724 466.5"/>
<path class="d" d="M705 494L724 494"/>
<path class="d" d="M705 531.4L724 531.4"/>
<path class="d" d="M693 559L724 559"/>
<g class="tv" font-size="14.5" text-anchor="middle">
<text x="735" y="487.5" textLength="13.5" lengthAdjust="spacingAndGlyphs">29</text>
<text x="735" y="520.7" textLength="13.5" lengthAdjust="spacingAndGlyphs">40</text>
<text x="735" y="553" textLength="13.5" lengthAdjust="spacingAndGlyphs">29</text>
</g>
<text class="tv" x="631.5" y="485.5" font-size="14" textLength="22.5" lengthAdjust="spacingAndGlyphs">M10</text>
<text class="tv" x="631.5" y="550" font-size="14" textLength="22.5" lengthAdjust="spacingAndGlyphs">M10</text>
<text class="tv" x="641" y="516" font-size="14" textLength="13" lengthAdjust="spacingAndGlyphs">50</text>
<path class="d" d="M631.5 486.7L679.7 486.7"/>
<path class="ar" d="M679.7 486.7L674.7 487.6L674.7 485.8Z"/>
<path class="d" d="M692.7 486.7L703 486.7"/>
<path class="ar" d="M692.7 486.7L697.7 485.8L697.7 487.6Z"/>
<path class="d" d="M631.5 551L679.7 551"/>
<path class="ar" d="M679.7 551L674.7 551.9L674.7 550.1Z"/>
<path class="d" d="M692.7 551L703 551"/>
<path class="ar" d="M692.7 551L697.7 550.1L697.7 551.9Z"/>
<path class="d" d="M637.7 516.7L667.5 516.7"/>
<path class="ar" d="M667.5 516.7L662.5 517.6L662.5 515.8Z"/>
<path class="d" d="M705 516.7L712 516.7"/>
<path class="ar" d="M705 516.7L710 515.8L710 517.6Z"/>
<text x="311.3" y="47.8" font-size="51" fill="#1d63ad" stroke="#1d63ad" stroke-width=".5" font-family="Liberation Sans, sans-serif" textLength="46.8" lengthAdjust="spacingAndGlyphs">W</text>
<text x="362.5" y="50.5" font-size="46" fill="#1d63ad" stroke="#1d63ad" stroke-width=".5" font-family="&quot;Liberation Sans&quot;,&quot;Noto Sans CJK SC&quot;,sans-serif" textLength="90" lengthAdjust="spacingAndGlyphs">系列</text>
</svg></body></html>
